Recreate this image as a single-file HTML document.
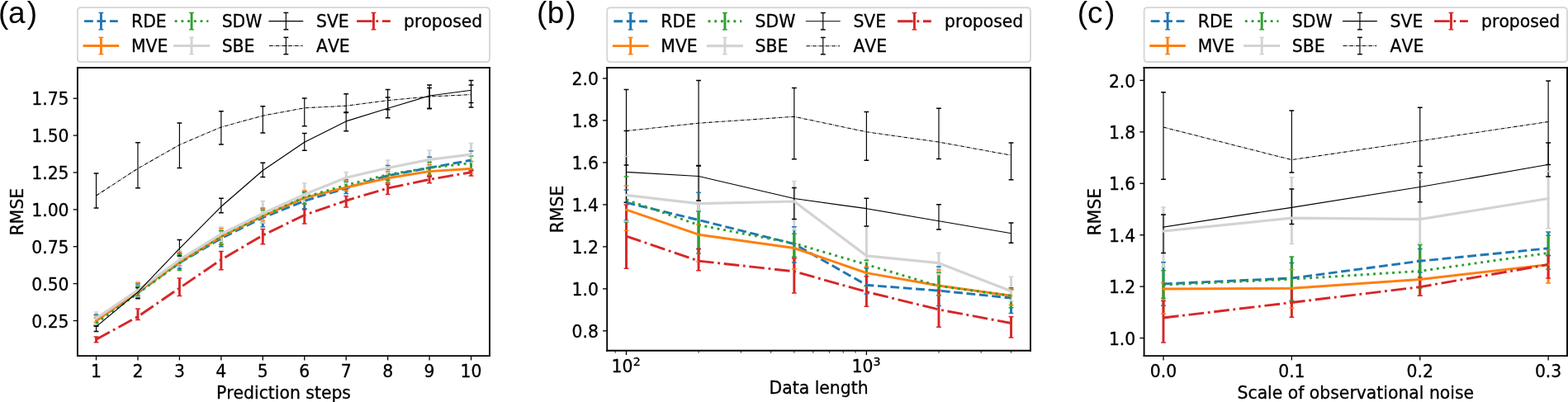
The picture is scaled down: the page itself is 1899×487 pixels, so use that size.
<!DOCTYPE html>
<html><head><meta charset="utf-8"><title>figure</title>
<style>html,body{margin:0;padding:0;background:#fff;}body{width:1899px;height:487px;overflow:hidden;}svg{display:block;}svg text{font-kerning:none;font-feature-settings:"kern" 0;stroke:#000;stroke-width:0.206;stroke-linejoin:round;}</style>
</head><body>
<svg width="1899" height="487" viewBox="0 0 1305.6033 334.822963" version="1.1">
 
 <defs>
  <style type="text/css">*{stroke-linejoin: round; stroke-linecap: butt}</style>
 </defs>
 <g id="figure_1">
  <g id="patch_1">
   <path d="M 0 334.822963 
L 1305.6033 334.822963 
L 1305.6033 0 
L 0 0 
z
" style="fill: #ffffff"/>
  </g>
  <g id="axes_1">
   <g id="patch_2">
    <path d="M 64.558267 296.424888 
L 407.700241 296.424888 
L 407.700241 56.376762 
L 64.558267 56.376762 
z
" style="fill: #ffffff"/>
   </g>
   <g id="matplotlib.axis_1">
    <g id="xtick_1">
     <g id="line2d_1">
      <g>
       <path d="M 0 0 L 0 3.6" transform="translate(80.096253 296.424888)" style="stroke: #000000; stroke-width: 0.9; stroke: #000000; stroke-width: 0.9"/>
      </g>
     </g>
     <g id="text_1">
      <text style="font-size: 14px; font-family: 'DejaVu Sans', 'Liberation Sans', sans-serif; text-anchor: middle" x="80.096253" y="314.506462" transform="rotate(-0 80.096253 314.506462)">1</text>
     </g>
    </g>
    <g id="xtick_2">
     <g id="line2d_2">
      <g>
       <path d="M 0 0 L 0 3.6" transform="translate(114.781712 296.424888)" style="stroke: #000000; stroke-width: 0.9; stroke: #000000; stroke-width: 0.9"/>
      </g>
     </g>
     <g id="text_2">
      <text style="font-size: 14px; font-family: 'DejaVu Sans', 'Liberation Sans', sans-serif; text-anchor: middle" x="114.781712" y="314.506462" transform="rotate(-0 114.781712 314.506462)">2</text>
     </g>
    </g>
    <g id="xtick_3">
     <g id="line2d_3">
      <g>
       <path d="M 0 0 L 0 3.6" transform="translate(149.467171 296.424888)" style="stroke: #000000; stroke-width: 0.9; stroke: #000000; stroke-width: 0.9"/>
      </g>
     </g>
     <g id="text_3">
      <text style="font-size: 14px; font-family: 'DejaVu Sans', 'Liberation Sans', sans-serif; text-anchor: middle" x="149.467171" y="314.506462" transform="rotate(-0 149.467171 314.506462)">3</text>
     </g>
    </g>
    <g id="xtick_4">
     <g id="line2d_4">
      <g>
       <path d="M 0 0 L 0 3.6" transform="translate(184.15263 296.424888)" style="stroke: #000000; stroke-width: 0.9; stroke: #000000; stroke-width: 0.9"/>
      </g>
     </g>
     <g id="text_4">
      <text style="font-size: 14px; font-family: 'DejaVu Sans', 'Liberation Sans', sans-serif; text-anchor: middle" x="184.15263" y="314.506462" transform="rotate(-0 184.15263 314.506462)">4</text>
     </g>
    </g>
    <g id="xtick_5">
     <g id="line2d_5">
      <g>
       <path d="M 0 0 L 0 3.6" transform="translate(218.838089 296.424888)" style="stroke: #000000; stroke-width: 0.9; stroke: #000000; stroke-width: 0.9"/>
      </g>
     </g>
     <g id="text_5">
      <text style="font-size: 14px; font-family: 'DejaVu Sans', 'Liberation Sans', sans-serif; text-anchor: middle" x="218.838089" y="314.506462" transform="rotate(-0 218.838089 314.506462)">5</text>
     </g>
    </g>
    <g id="xtick_6">
     <g id="line2d_6">
      <g>
       <path d="M 0 0 L 0 3.6" transform="translate(253.523548 296.424888)" style="stroke: #000000; stroke-width: 0.9; stroke: #000000; stroke-width: 0.9"/>
      </g>
     </g>
     <g id="text_6">
      <text style="font-size: 14px; font-family: 'DejaVu Sans', 'Liberation Sans', sans-serif; text-anchor: middle" x="253.523548" y="314.506462" transform="rotate(-0 253.523548 314.506462)">6</text>
     </g>
    </g>
    <g id="xtick_7">
     <g id="line2d_7">
      <g>
       <path d="M 0 0 L 0 3.6" transform="translate(288.209007 296.424888)" style="stroke: #000000; stroke-width: 0.9; stroke: #000000; stroke-width: 0.9"/>
      </g>
     </g>
     <g id="text_7">
      <text style="font-size: 14px; font-family: 'DejaVu Sans', 'Liberation Sans', sans-serif; text-anchor: middle" x="288.209007" y="314.506462" transform="rotate(-0 288.209007 314.506462)">7</text>
     </g>
    </g>
    <g id="xtick_8">
     <g id="line2d_8">
      <g>
       <path d="M 0 0 L 0 3.6" transform="translate(322.894465 296.424888)" style="stroke: #000000; stroke-width: 0.9; stroke: #000000; stroke-width: 0.9"/>
      </g>
     </g>
     <g id="text_8">
      <text style="font-size: 14px; font-family: 'DejaVu Sans', 'Liberation Sans', sans-serif; text-anchor: middle" x="322.894465" y="314.506462" transform="rotate(-0 322.894465 314.506462)">8</text>
     </g>
    </g>
    <g id="xtick_9">
     <g id="line2d_9">
      <g>
       <path d="M 0 0 L 0 3.6" transform="translate(357.579924 296.424888)" style="stroke: #000000; stroke-width: 0.9; stroke: #000000; stroke-width: 0.9"/>
      </g>
     </g>
     <g id="text_9">
      <text style="font-size: 14px; font-family: 'DejaVu Sans', 'Liberation Sans', sans-serif; text-anchor: middle" x="357.579924" y="314.506462" transform="rotate(-0 357.579924 314.506462)">9</text>
     </g>
    </g>
    <g id="xtick_10">
     <g id="line2d_10">
      <g>
       <path d="M 0 0 L 0 3.6" transform="translate(392.265383 296.424888)" style="stroke: #000000; stroke-width: 0.9; stroke: #000000; stroke-width: 0.9"/>
      </g>
     </g>
     <g id="text_10">
      <text style="font-size: 14px; font-family: 'DejaVu Sans', 'Liberation Sans', sans-serif; text-anchor: middle" x="392.265383" y="314.506462" transform="rotate(-0 392.265383 314.506462)">10</text>
     </g>
    </g>
    <g id="text_11">
     <text style="font-size: 14px; font-family: 'DejaVu Sans', 'Liberation Sans', sans-serif; text-anchor: middle" x="236.129254" y="332.193341" transform="rotate(-0 236.129254 332.193341)">Prediction steps</text>
    </g>
   </g>
   <g id="matplotlib.axis_2">
    <g id="ytick_1">
     <g id="line2d_11">
      <g>
       <path d="M 0 0 L -3.6 0" transform="translate(64.558267 267.102097)" style="stroke: #000000; stroke-width: 0.9; stroke: #000000; stroke-width: 0.9"/>
      </g>
     </g>
     <g id="text_12">
      <text style="font-size: 14px; font-family: 'DejaVu Sans', 'Liberation Sans', sans-serif; text-anchor: end" x="57.458267" y="272.764764" transform="rotate(-0 57.458267 272.764764)">0.25</text>
     </g>
    </g>
    <g id="ytick_2">
     <g id="line2d_12">
      <g>
       <path d="M 0 0 L -3.6 0" transform="translate(64.558267 236.244414)" style="stroke: #000000; stroke-width: 0.9; stroke: #000000; stroke-width: 0.9"/>
      </g>
     </g>
     <g id="text_13">
      <text style="font-size: 14px; font-family: 'DejaVu Sans', 'Liberation Sans', sans-serif; text-anchor: end" x="57.458267" y="241.907081" transform="rotate(-0 57.458267 241.907081)">0.50</text>
     </g>
    </g>
    <g id="ytick_3">
     <g id="line2d_13">
      <g>
       <path d="M 0 0 L -3.6 0" transform="translate(64.558267 205.386731)" style="stroke: #000000; stroke-width: 0.9; stroke: #000000; stroke-width: 0.9"/>
      </g>
     </g>
     <g id="text_14">
      <text style="font-size: 14px; font-family: 'DejaVu Sans', 'Liberation Sans', sans-serif; text-anchor: end" x="57.458267" y="211.049398" transform="rotate(-0 57.458267 211.049398)">0.75</text>
     </g>
    </g>
    <g id="ytick_4">
     <g id="line2d_14">
      <g>
       <path d="M 0 0 L -3.6 0" transform="translate(64.558267 174.529048)" style="stroke: #000000; stroke-width: 0.9; stroke: #000000; stroke-width: 0.9"/>
      </g>
     </g>
     <g id="text_15">
      <text style="font-size: 14px; font-family: 'DejaVu Sans', 'Liberation Sans', sans-serif; text-anchor: end" x="57.458267" y="180.191715" transform="rotate(-0 57.458267 180.191715)">1.00</text>
     </g>
    </g>
    <g id="ytick_5">
     <g id="line2d_15">
      <g>
       <path d="M 0 0 L -3.6 0" transform="translate(64.558267 143.671365)" style="stroke: #000000; stroke-width: 0.9; stroke: #000000; stroke-width: 0.9"/>
      </g>
     </g>
     <g id="text_16">
      <text style="font-size: 14px; font-family: 'DejaVu Sans', 'Liberation Sans', sans-serif; text-anchor: end" x="57.458267" y="149.334032" transform="rotate(-0 57.458267 149.334032)">1.25</text>
     </g>
    </g>
    <g id="ytick_6">
     <g id="line2d_16">
      <g>
       <path d="M 0 0 L -3.6 0" transform="translate(64.558267 112.813682)" style="stroke: #000000; stroke-width: 0.9; stroke: #000000; stroke-width: 0.9"/>
      </g>
     </g>
     <g id="text_17">
      <text style="font-size: 14px; font-family: 'DejaVu Sans', 'Liberation Sans', sans-serif; text-anchor: end" x="57.458267" y="118.476349" transform="rotate(-0 57.458267 118.476349)">1.50</text>
     </g>
    </g>
    <g id="ytick_7">
     <g id="line2d_17">
      <g>
       <path d="M 0 0 L -3.6 0" transform="translate(64.558267 81.955999)" style="stroke: #000000; stroke-width: 0.9; stroke: #000000; stroke-width: 0.9"/>
      </g>
     </g>
     <g id="text_18">
      <text style="font-size: 14px; font-family: 'DejaVu Sans', 'Liberation Sans', sans-serif; text-anchor: end" x="57.458267" y="87.618666" transform="rotate(-0 57.458267 87.618666)">1.75</text>
     </g>
    </g>
    <g id="text_19">
     <text style="font-size: 14px; font-family: 'DejaVu Sans', 'Liberation Sans', sans-serif; text-anchor: middle" x="19.37483" y="176.400825" transform="rotate(-90 19.37483 176.400825)">RMSE</text>
    </g>
   </g>
   <g id="LineCollection_1">
    <path d="M 80.096253 270.883465 
L 80.096253 262.014438 
" clip-path="url(#p12a001afb0)" style="fill: none; stroke: #1f77b4; stroke-width: 2"/>
    <path d="M 114.781712 248.882778 
L 114.781712 236.507391 
" clip-path="url(#p12a001afb0)" style="fill: none; stroke: #1f77b4; stroke-width: 2"/>
    <path d="M 149.467171 223.719491 
L 149.467171 211.275352 
" clip-path="url(#p12a001afb0)" style="fill: none; stroke: #1f77b4; stroke-width: 2"/>
    <path d="M 184.15263 205.362668 
L 184.15263 192.162255 
" clip-path="url(#p12a001afb0)" style="fill: none; stroke: #1f77b4; stroke-width: 2"/>
    <path d="M 218.838089 188.862152 
L 218.838089 173.667927 
" clip-path="url(#p12a001afb0)" style="fill: none; stroke: #1f77b4; stroke-width: 2"/>
    <path d="M 253.523548 173.736679 
L 253.523548 159.504985 
" clip-path="url(#p12a001afb0)" style="fill: none; stroke: #1f77b4; stroke-width: 2"/>
    <path d="M 288.209007 161.155036 
L 288.209007 151.254727 
" clip-path="url(#p12a001afb0)" style="fill: none; stroke: #1f77b4; stroke-width: 2"/>
    <path d="M 322.894465 152.62977 
L 322.894465 137.91681 
" clip-path="url(#p12a001afb0)" style="fill: none; stroke: #1f77b4; stroke-width: 2"/>
    <path d="M 357.579924 147.129598 
L 357.579924 130.835339 
" clip-path="url(#p12a001afb0)" style="fill: none; stroke: #1f77b4; stroke-width: 2"/>
    <path d="M 392.265383 140.941904 
L 392.265383 125.74768 
" clip-path="url(#p12a001afb0)" style="fill: none; stroke: #1f77b4; stroke-width: 2"/>
   </g>
   <g id="LineCollection_2">
    <path d="M 80.096253 268.545892 
L 80.096253 262.976968 
" clip-path="url(#p12a001afb0)" style="fill: none; stroke: #ff7f0e; stroke-width: 2"/>
    <path d="M 114.781712 246.201444 
L 114.781712 235.613613 
" clip-path="url(#p12a001afb0)" style="fill: none; stroke: #ff7f0e; stroke-width: 2"/>
    <path d="M 149.467171 221.175662 
L 149.467171 210.037814 
" clip-path="url(#p12a001afb0)" style="fill: none; stroke: #ff7f0e; stroke-width: 2"/>
    <path d="M 184.15263 203.231351 
L 184.15263 190.099691 
" clip-path="url(#p12a001afb0)" style="fill: none; stroke: #ff7f0e; stroke-width: 2"/>
    <path d="M 218.838089 183.911997 
L 218.838089 173.255414 
" clip-path="url(#p12a001afb0)" style="fill: none; stroke: #ff7f0e; stroke-width: 2"/>
    <path d="M 253.523548 169.817807 
L 253.523548 158.817463 
" clip-path="url(#p12a001afb0)" style="fill: none; stroke: #ff7f0e; stroke-width: 2"/>
    <path d="M 288.209007 159.023719 
L 288.209007 150.842214 
" clip-path="url(#p12a001afb0)" style="fill: none; stroke: #ff7f0e; stroke-width: 2"/>
    <path d="M 322.894465 151.735992 
L 322.894465 142.866965 
" clip-path="url(#p12a001afb0)" style="fill: none; stroke: #ff7f0e; stroke-width: 2"/>
    <path d="M 357.579924 145.754555 
L 357.579924 137.229288 
" clip-path="url(#p12a001afb0)" style="fill: none; stroke: #ff7f0e; stroke-width: 2"/>
    <path d="M 392.265383 144.379512 
L 392.265383 134.479202 
" clip-path="url(#p12a001afb0)" style="fill: none; stroke: #ff7f0e; stroke-width: 2"/>
   </g>
   <g id="LineCollection_3">
    <path d="M 80.096253 270.677209 
L 80.096253 264.833276 
" clip-path="url(#p12a001afb0)" style="fill: none; stroke: #2ca02c; stroke-width: 2"/>
    <path d="M 114.781712 246.820213 
L 114.781712 238.157442 
" clip-path="url(#p12a001afb0)" style="fill: none; stroke: #2ca02c; stroke-width: 2"/>
    <path d="M 149.467171 225.094534 
L 149.467171 211.756617 
" clip-path="url(#p12a001afb0)" style="fill: none; stroke: #2ca02c; stroke-width: 2"/>
    <path d="M 184.15263 203.918872 
L 184.15263 192.093503 
" clip-path="url(#p12a001afb0)" style="fill: none; stroke: #2ca02c; stroke-width: 2"/>
    <path d="M 218.838089 185.699553 
L 218.838089 175.04297 
" clip-path="url(#p12a001afb0)" style="fill: none; stroke: #2ca02c; stroke-width: 2"/>
    <path d="M 253.523548 169.886559 
L 253.523548 160.467515 
" clip-path="url(#p12a001afb0)" style="fill: none; stroke: #2ca02c; stroke-width: 2"/>
    <path d="M 288.209007 157.373668 
L 288.209007 149.742179 
" clip-path="url(#p12a001afb0)" style="fill: none; stroke: #2ca02c; stroke-width: 2"/>
    <path d="M 322.894465 150.08594 
L 322.894465 141.148161 
" clip-path="url(#p12a001afb0)" style="fill: none; stroke: #2ca02c; stroke-width: 2"/>
    <path d="M 357.579924 146.098316 
L 357.579924 135.097972 
" clip-path="url(#p12a001afb0)" style="fill: none; stroke: #2ca02c; stroke-width: 2"/>
    <path d="M 392.265383 142.248195 
L 392.265383 129.941561 
" clip-path="url(#p12a001afb0)" style="fill: none; stroke: #2ca02c; stroke-width: 2"/>
   </g>
   <g id="LineCollection_4">
    <path d="M 80.096253 270.195944 
L 80.096253 259.951873 
" clip-path="url(#p12a001afb0)" style="fill: none; stroke: #d3d3d3; stroke-width: 2"/>
    <path d="M 114.781712 247.507735 
L 114.781712 234.376074 
" clip-path="url(#p12a001afb0)" style="fill: none; stroke: #d3d3d3; stroke-width: 2"/>
    <path d="M 149.467171 222.000688 
L 149.467171 208.731523 
" clip-path="url(#p12a001afb0)" style="fill: none; stroke: #d3d3d3; stroke-width: 2"/>
    <path d="M 184.15263 201.100034 
L 184.15263 188.999656 
" clip-path="url(#p12a001afb0)" style="fill: none; stroke: #d3d3d3; stroke-width: 2"/>
    <path d="M 218.838089 185.630801 
L 218.838089 167.411482 
" clip-path="url(#p12a001afb0)" style="fill: none; stroke: #d3d3d3; stroke-width: 2"/>
    <path d="M 253.523548 167.961499 
L 253.523548 152.423513 
" clip-path="url(#p12a001afb0)" style="fill: none; stroke: #d3d3d3; stroke-width: 2"/>
    <path d="M 288.209007 154.004813 
L 288.209007 143.416982 
" clip-path="url(#p12a001afb0)" style="fill: none; stroke: #d3d3d3; stroke-width: 2"/>
    <path d="M 322.894465 145.067033 
L 322.894465 133.310416 
" clip-path="url(#p12a001afb0)" style="fill: none; stroke: #d3d3d3; stroke-width: 2"/>
    <path d="M 357.579924 139.566861 
L 357.579924 125.12891 
" clip-path="url(#p12a001afb0)" style="fill: none; stroke: #d3d3d3; stroke-width: 2"/>
    <path d="M 392.265383 135.441733 
L 392.265383 119.216226 
" clip-path="url(#p12a001afb0)" style="fill: none; stroke: #d3d3d3; stroke-width: 2"/>
   </g>
   <g id="LineCollection_5">
    <path d="M 80.096253 276.039876 
L 80.096253 271.708491 
" clip-path="url(#p12a001afb0)" style="fill: none; stroke: #000000; stroke-width: 0.8"/>
    <path d="M 114.781712 248.33276 
L 114.781712 239.601238 
" clip-path="url(#p12a001afb0)" style="fill: none; stroke: #000000; stroke-width: 0.8"/>
    <path d="M 149.467171 213.13166 
L 149.467171 199.656239 
" clip-path="url(#p12a001afb0)" style="fill: none; stroke: #000000; stroke-width: 0.8"/>
    <path d="M 184.15263 177.243039 
L 184.15263 165.211413 
" clip-path="url(#p12a001afb0)" style="fill: none; stroke: #000000; stroke-width: 0.8"/>
    <path d="M 218.838089 147.404606 
L 218.838089 135.579237 
" clip-path="url(#p12a001afb0)" style="fill: none; stroke: #000000; stroke-width: 0.8"/>
    <path d="M 253.523548 125.335167 
L 253.523548 110.965968 
" clip-path="url(#p12a001afb0)" style="fill: none; stroke: #000000; stroke-width: 0.8"/>
    <path d="M 288.209007 109.178412 
L 288.209007 93.571674 
" clip-path="url(#p12a001afb0)" style="fill: none; stroke: #000000; stroke-width: 0.8"/>
    <path d="M 322.894465 98.178068 
L 322.894465 81.127535 
" clip-path="url(#p12a001afb0)" style="fill: none; stroke: #000000; stroke-width: 0.8"/>
    <path d="M 357.579924 90.477827 
L 357.579924 73.28979 
" clip-path="url(#p12a001afb0)" style="fill: none; stroke: #000000; stroke-width: 0.8"/>
    <path d="M 392.265383 85.596425 
L 392.265383 66.964593 
" clip-path="url(#p12a001afb0)" style="fill: none; stroke: #000000; stroke-width: 0.8"/>
   </g>
   <g id="LineCollection_6">
    <path d="M 80.096253 173.255414 
L 80.096253 144.31076 
" clip-path="url(#p12a001afb0)" style="fill: none; stroke: #000000; stroke-width: 0.8"/>
    <path d="M 114.781712 156.617394 
L 114.781712 118.73496 
" clip-path="url(#p12a001afb0)" style="fill: none; stroke: #000000; stroke-width: 0.8"/>
    <path d="M 149.467171 139.910622 
L 149.467171 102.440701 
" clip-path="url(#p12a001afb0)" style="fill: none; stroke: #000000; stroke-width: 0.8"/>
    <path d="M 184.15263 120.247508 
L 184.15263 92.609144 
" clip-path="url(#p12a001afb0)" style="fill: none; stroke: #000000; stroke-width: 0.8"/>
    <path d="M 218.838089 110.622207 
L 218.838089 88.552767 
" clip-path="url(#p12a001afb0)" style="fill: none; stroke: #000000; stroke-width: 0.8"/>
    <path d="M 253.523548 104.984531 
L 253.523548 81.815057 
" clip-path="url(#p12a001afb0)" style="fill: none; stroke: #000000; stroke-width: 0.8"/>
    <path d="M 288.209007 93.915435 
L 288.209007 78.171193 
" clip-path="url(#p12a001afb0)" style="fill: none; stroke: #000000; stroke-width: 0.8"/>
    <path d="M 322.894465 91.234101 
L 322.894465 74.596081 
" clip-path="url(#p12a001afb0)" style="fill: none; stroke: #000000; stroke-width: 0.8"/>
    <path d="M 357.579924 90.477827 
L 357.579924 70.883465 
" clip-path="url(#p12a001afb0)" style="fill: none; stroke: #000000; stroke-width: 0.8"/>
    <path d="M 392.265383 89.309041 
L 392.265383 70.745961 
" clip-path="url(#p12a001afb0)" style="fill: none; stroke: #000000; stroke-width: 0.8"/>
   </g>
   <g id="LineCollection_7">
    <path d="M 80.096253 285.11516 
L 80.096253 280.440014 
" clip-path="url(#p12a001afb0)" style="fill: none; stroke: #d62728; stroke-width: 2"/>
    <path d="M 114.781712 266.345823 
L 114.781712 257.064283 
" clip-path="url(#p12a001afb0)" style="fill: none; stroke: #d62728; stroke-width: 2"/>
    <path d="M 149.467171 246.545205 
L 149.467171 231.625988 
" clip-path="url(#p12a001afb0)" style="fill: none; stroke: #d62728; stroke-width: 2"/>
    <path d="M 184.15263 224.682021 
L 184.15263 209.350292 
" clip-path="url(#p12a001afb0)" style="fill: none; stroke: #d62728; stroke-width: 2"/>
    <path d="M 218.838089 203.300103 
L 218.838089 190.71846 
" clip-path="url(#p12a001afb0)" style="fill: none; stroke: #d62728; stroke-width: 2"/>
    <path d="M 253.523548 186.24957 
L 253.523548 174.492953 
" clip-path="url(#p12a001afb0)" style="fill: none; stroke: #d62728; stroke-width: 2"/>
    <path d="M 288.209007 172.636645 
L 288.209007 163.286353 
" clip-path="url(#p12a001afb0)" style="fill: none; stroke: #d62728; stroke-width: 2"/>
    <path d="M 322.894465 161.91131 
L 322.894465 153.5923 
" clip-path="url(#p12a001afb0)" style="fill: none; stroke: #d62728; stroke-width: 2"/>
    <path d="M 357.579924 152.423513 
L 357.579924 146.923341 
" clip-path="url(#p12a001afb0)" style="fill: none; stroke: #d62728; stroke-width: 2"/>
    <path d="M 392.265383 146.442076 
L 392.265383 141.973187 
" clip-path="url(#p12a001afb0)" style="fill: none; stroke: #d62728; stroke-width: 2"/>
   </g>
   <g id="line2d_18">
    <g clip-path="url(#p12a001afb0)">
     <path d="M 2 0 L -2 -0" transform="translate(80.096253 270.883465)" style="fill: #1f77b4; stroke: #1f77b4; stroke: #1f77b4"/>
     <path d="M 2 0 L -2 -0" transform="translate(114.781712 248.882778)" style="fill: #1f77b4; stroke: #1f77b4; stroke: #1f77b4"/>
     <path d="M 2 0 L -2 -0" transform="translate(149.467171 223.719491)" style="fill: #1f77b4; stroke: #1f77b4; stroke: #1f77b4"/>
     <path d="M 2 0 L -2 -0" transform="translate(184.15263 205.362668)" style="fill: #1f77b4; stroke: #1f77b4; stroke: #1f77b4"/>
     <path d="M 2 0 L -2 -0" transform="translate(218.838089 188.862152)" style="fill: #1f77b4; stroke: #1f77b4; stroke: #1f77b4"/>
     <path d="M 2 0 L -2 -0" transform="translate(253.523548 173.736679)" style="fill: #1f77b4; stroke: #1f77b4; stroke: #1f77b4"/>
     <path d="M 2 0 L -2 -0" transform="translate(288.209007 161.155036)" style="fill: #1f77b4; stroke: #1f77b4; stroke: #1f77b4"/>
     <path d="M 2 0 L -2 -0" transform="translate(322.894465 152.62977)" style="fill: #1f77b4; stroke: #1f77b4; stroke: #1f77b4"/>
     <path d="M 2 0 L -2 -0" transform="translate(357.579924 147.129598)" style="fill: #1f77b4; stroke: #1f77b4; stroke: #1f77b4"/>
     <path d="M 2 0 L -2 -0" transform="translate(392.265383 140.941904)" style="fill: #1f77b4; stroke: #1f77b4; stroke: #1f77b4"/>
    </g>
   </g>
   <g id="line2d_19">
    <g clip-path="url(#p12a001afb0)">
     <path d="M 2 0 L -2 -0" transform="translate(80.096253 262.014438)" style="fill: #1f77b4; stroke: #1f77b4; stroke: #1f77b4"/>
     <path d="M 2 0 L -2 -0" transform="translate(114.781712 236.507391)" style="fill: #1f77b4; stroke: #1f77b4; stroke: #1f77b4"/>
     <path d="M 2 0 L -2 -0" transform="translate(149.467171 211.275352)" style="fill: #1f77b4; stroke: #1f77b4; stroke: #1f77b4"/>
     <path d="M 2 0 L -2 -0" transform="translate(184.15263 192.162255)" style="fill: #1f77b4; stroke: #1f77b4; stroke: #1f77b4"/>
     <path d="M 2 0 L -2 -0" transform="translate(218.838089 173.667927)" style="fill: #1f77b4; stroke: #1f77b4; stroke: #1f77b4"/>
     <path d="M 2 0 L -2 -0" transform="translate(253.523548 159.504985)" style="fill: #1f77b4; stroke: #1f77b4; stroke: #1f77b4"/>
     <path d="M 2 0 L -2 -0" transform="translate(288.209007 151.254727)" style="fill: #1f77b4; stroke: #1f77b4; stroke: #1f77b4"/>
     <path d="M 2 0 L -2 -0" transform="translate(322.894465 137.91681)" style="fill: #1f77b4; stroke: #1f77b4; stroke: #1f77b4"/>
     <path d="M 2 0 L -2 -0" transform="translate(357.579924 130.835339)" style="fill: #1f77b4; stroke: #1f77b4; stroke: #1f77b4"/>
     <path d="M 2 0 L -2 -0" transform="translate(392.265383 125.74768)" style="fill: #1f77b4; stroke: #1f77b4; stroke: #1f77b4"/>
    </g>
   </g>
   <g id="line2d_20">
    <g clip-path="url(#p12a001afb0)">
     <path d="M 2 0 L -2 -0" transform="translate(80.096253 268.545892)" style="fill: #ff7f0e; stroke: #ff7f0e; stroke: #ff7f0e"/>
     <path d="M 2 0 L -2 -0" transform="translate(114.781712 246.201444)" style="fill: #ff7f0e; stroke: #ff7f0e; stroke: #ff7f0e"/>
     <path d="M 2 0 L -2 -0" transform="translate(149.467171 221.175662)" style="fill: #ff7f0e; stroke: #ff7f0e; stroke: #ff7f0e"/>
     <path d="M 2 0 L -2 -0" transform="translate(184.15263 203.231351)" style="fill: #ff7f0e; stroke: #ff7f0e; stroke: #ff7f0e"/>
     <path d="M 2 0 L -2 -0" transform="translate(218.838089 183.911997)" style="fill: #ff7f0e; stroke: #ff7f0e; stroke: #ff7f0e"/>
     <path d="M 2 0 L -2 -0" transform="translate(253.523548 169.817807)" style="fill: #ff7f0e; stroke: #ff7f0e; stroke: #ff7f0e"/>
     <path d="M 2 0 L -2 -0" transform="translate(288.209007 159.023719)" style="fill: #ff7f0e; stroke: #ff7f0e; stroke: #ff7f0e"/>
     <path d="M 2 0 L -2 -0" transform="translate(322.894465 151.735992)" style="fill: #ff7f0e; stroke: #ff7f0e; stroke: #ff7f0e"/>
     <path d="M 2 0 L -2 -0" transform="translate(357.579924 145.754555)" style="fill: #ff7f0e; stroke: #ff7f0e; stroke: #ff7f0e"/>
     <path d="M 2 0 L -2 -0" transform="translate(392.265383 144.379512)" style="fill: #ff7f0e; stroke: #ff7f0e; stroke: #ff7f0e"/>
    </g>
   </g>
   <g id="line2d_21">
    <g clip-path="url(#p12a001afb0)">
     <path d="M 2 0 L -2 -0" transform="translate(80.096253 262.976968)" style="fill: #ff7f0e; stroke: #ff7f0e; stroke: #ff7f0e"/>
     <path d="M 2 0 L -2 -0" transform="translate(114.781712 235.613613)" style="fill: #ff7f0e; stroke: #ff7f0e; stroke: #ff7f0e"/>
     <path d="M 2 0 L -2 -0" transform="translate(149.467171 210.037814)" style="fill: #ff7f0e; stroke: #ff7f0e; stroke: #ff7f0e"/>
     <path d="M 2 0 L -2 -0" transform="translate(184.15263 190.099691)" style="fill: #ff7f0e; stroke: #ff7f0e; stroke: #ff7f0e"/>
     <path d="M 2 0 L -2 -0" transform="translate(218.838089 173.255414)" style="fill: #ff7f0e; stroke: #ff7f0e; stroke: #ff7f0e"/>
     <path d="M 2 0 L -2 -0" transform="translate(253.523548 158.817463)" style="fill: #ff7f0e; stroke: #ff7f0e; stroke: #ff7f0e"/>
     <path d="M 2 0 L -2 -0" transform="translate(288.209007 150.842214)" style="fill: #ff7f0e; stroke: #ff7f0e; stroke: #ff7f0e"/>
     <path d="M 2 0 L -2 -0" transform="translate(322.894465 142.866965)" style="fill: #ff7f0e; stroke: #ff7f0e; stroke: #ff7f0e"/>
     <path d="M 2 0 L -2 -0" transform="translate(357.579924 137.229288)" style="fill: #ff7f0e; stroke: #ff7f0e; stroke: #ff7f0e"/>
     <path d="M 2 0 L -2 -0" transform="translate(392.265383 134.479202)" style="fill: #ff7f0e; stroke: #ff7f0e; stroke: #ff7f0e"/>
    </g>
   </g>
   <g id="line2d_22">
    <g clip-path="url(#p12a001afb0)">
     <path d="M 2 0 L -2 -0" transform="translate(80.096253 270.677209)" style="fill: #2ca02c; stroke: #2ca02c; stroke: #2ca02c"/>
     <path d="M 2 0 L -2 -0" transform="translate(114.781712 246.820213)" style="fill: #2ca02c; stroke: #2ca02c; stroke: #2ca02c"/>
     <path d="M 2 0 L -2 -0" transform="translate(149.467171 225.094534)" style="fill: #2ca02c; stroke: #2ca02c; stroke: #2ca02c"/>
     <path d="M 2 0 L -2 -0" transform="translate(184.15263 203.918872)" style="fill: #2ca02c; stroke: #2ca02c; stroke: #2ca02c"/>
     <path d="M 2 0 L -2 -0" transform="translate(218.838089 185.699553)" style="fill: #2ca02c; stroke: #2ca02c; stroke: #2ca02c"/>
     <path d="M 2 0 L -2 -0" transform="translate(253.523548 169.886559)" style="fill: #2ca02c; stroke: #2ca02c; stroke: #2ca02c"/>
     <path d="M 2 0 L -2 -0" transform="translate(288.209007 157.373668)" style="fill: #2ca02c; stroke: #2ca02c; stroke: #2ca02c"/>
     <path d="M 2 0 L -2 -0" transform="translate(322.894465 150.08594)" style="fill: #2ca02c; stroke: #2ca02c; stroke: #2ca02c"/>
     <path d="M 2 0 L -2 -0" transform="translate(357.579924 146.098316)" style="fill: #2ca02c; stroke: #2ca02c; stroke: #2ca02c"/>
     <path d="M 2 0 L -2 -0" transform="translate(392.265383 142.248195)" style="fill: #2ca02c; stroke: #2ca02c; stroke: #2ca02c"/>
    </g>
   </g>
   <g id="line2d_23">
    <g clip-path="url(#p12a001afb0)">
     <path d="M 2 0 L -2 -0" transform="translate(80.096253 264.833276)" style="fill: #2ca02c; stroke: #2ca02c; stroke: #2ca02c"/>
     <path d="M 2 0 L -2 -0" transform="translate(114.781712 238.157442)" style="fill: #2ca02c; stroke: #2ca02c; stroke: #2ca02c"/>
     <path d="M 2 0 L -2 -0" transform="translate(149.467171 211.756617)" style="fill: #2ca02c; stroke: #2ca02c; stroke: #2ca02c"/>
     <path d="M 2 0 L -2 -0" transform="translate(184.15263 192.093503)" style="fill: #2ca02c; stroke: #2ca02c; stroke: #2ca02c"/>
     <path d="M 2 0 L -2 -0" transform="translate(218.838089 175.04297)" style="fill: #2ca02c; stroke: #2ca02c; stroke: #2ca02c"/>
     <path d="M 2 0 L -2 -0" transform="translate(253.523548 160.467515)" style="fill: #2ca02c; stroke: #2ca02c; stroke: #2ca02c"/>
     <path d="M 2 0 L -2 -0" transform="translate(288.209007 149.742179)" style="fill: #2ca02c; stroke: #2ca02c; stroke: #2ca02c"/>
     <path d="M 2 0 L -2 -0" transform="translate(322.894465 141.148161)" style="fill: #2ca02c; stroke: #2ca02c; stroke: #2ca02c"/>
     <path d="M 2 0 L -2 -0" transform="translate(357.579924 135.097972)" style="fill: #2ca02c; stroke: #2ca02c; stroke: #2ca02c"/>
     <path d="M 2 0 L -2 -0" transform="translate(392.265383 129.941561)" style="fill: #2ca02c; stroke: #2ca02c; stroke: #2ca02c"/>
    </g>
   </g>
   <g id="line2d_24">
    <g clip-path="url(#p12a001afb0)">
     <path d="M 2 0 L -2 -0" transform="translate(80.096253 270.195944)" style="fill: #d3d3d3; stroke: #d3d3d3; stroke: #d3d3d3"/>
     <path d="M 2 0 L -2 -0" transform="translate(114.781712 247.507735)" style="fill: #d3d3d3; stroke: #d3d3d3; stroke: #d3d3d3"/>
     <path d="M 2 0 L -2 -0" transform="translate(149.467171 222.000688)" style="fill: #d3d3d3; stroke: #d3d3d3; stroke: #d3d3d3"/>
     <path d="M 2 0 L -2 -0" transform="translate(184.15263 201.100034)" style="fill: #d3d3d3; stroke: #d3d3d3; stroke: #d3d3d3"/>
     <path d="M 2 0 L -2 -0" transform="translate(218.838089 185.630801)" style="fill: #d3d3d3; stroke: #d3d3d3; stroke: #d3d3d3"/>
     <path d="M 2 0 L -2 -0" transform="translate(253.523548 167.961499)" style="fill: #d3d3d3; stroke: #d3d3d3; stroke: #d3d3d3"/>
     <path d="M 2 0 L -2 -0" transform="translate(288.209007 154.004813)" style="fill: #d3d3d3; stroke: #d3d3d3; stroke: #d3d3d3"/>
     <path d="M 2 0 L -2 -0" transform="translate(322.894465 145.067033)" style="fill: #d3d3d3; stroke: #d3d3d3; stroke: #d3d3d3"/>
     <path d="M 2 0 L -2 -0" transform="translate(357.579924 139.566861)" style="fill: #d3d3d3; stroke: #d3d3d3; stroke: #d3d3d3"/>
     <path d="M 2 0 L -2 -0" transform="translate(392.265383 135.441733)" style="fill: #d3d3d3; stroke: #d3d3d3; stroke: #d3d3d3"/>
    </g>
   </g>
   <g id="line2d_25">
    <g clip-path="url(#p12a001afb0)">
     <path d="M 2 0 L -2 -0" transform="translate(80.096253 259.951873)" style="fill: #d3d3d3; stroke: #d3d3d3; stroke: #d3d3d3"/>
     <path d="M 2 0 L -2 -0" transform="translate(114.781712 234.376074)" style="fill: #d3d3d3; stroke: #d3d3d3; stroke: #d3d3d3"/>
     <path d="M 2 0 L -2 -0" transform="translate(149.467171 208.731523)" style="fill: #d3d3d3; stroke: #d3d3d3; stroke: #d3d3d3"/>
     <path d="M 2 0 L -2 -0" transform="translate(184.15263 188.999656)" style="fill: #d3d3d3; stroke: #d3d3d3; stroke: #d3d3d3"/>
     <path d="M 2 0 L -2 -0" transform="translate(218.838089 167.411482)" style="fill: #d3d3d3; stroke: #d3d3d3; stroke: #d3d3d3"/>
     <path d="M 2 0 L -2 -0" transform="translate(253.523548 152.423513)" style="fill: #d3d3d3; stroke: #d3d3d3; stroke: #d3d3d3"/>
     <path d="M 2 0 L -2 -0" transform="translate(288.209007 143.416982)" style="fill: #d3d3d3; stroke: #d3d3d3; stroke: #d3d3d3"/>
     <path d="M 2 0 L -2 -0" transform="translate(322.894465 133.310416)" style="fill: #d3d3d3; stroke: #d3d3d3; stroke: #d3d3d3"/>
     <path d="M 2 0 L -2 -0" transform="translate(357.579924 125.12891)" style="fill: #d3d3d3; stroke: #d3d3d3; stroke: #d3d3d3"/>
     <path d="M 2 0 L -2 -0" transform="translate(392.265383 119.216226)" style="fill: #d3d3d3; stroke: #d3d3d3; stroke: #d3d3d3"/>
    </g>
   </g>
   <g id="line2d_26">
    <g clip-path="url(#p12a001afb0)">
     <path d="M 2 0 L -2 -0" transform="translate(80.096253 276.039876)" style="stroke: #000000; stroke: #000000"/>
     <path d="M 2 0 L -2 -0" transform="translate(114.781712 248.33276)" style="stroke: #000000; stroke: #000000"/>
     <path d="M 2 0 L -2 -0" transform="translate(149.467171 213.13166)" style="stroke: #000000; stroke: #000000"/>
     <path d="M 2 0 L -2 -0" transform="translate(184.15263 177.243039)" style="stroke: #000000; stroke: #000000"/>
     <path d="M 2 0 L -2 -0" transform="translate(218.838089 147.404606)" style="stroke: #000000; stroke: #000000"/>
     <path d="M 2 0 L -2 -0" transform="translate(253.523548 125.335167)" style="stroke: #000000; stroke: #000000"/>
     <path d="M 2 0 L -2 -0" transform="translate(288.209007 109.178412)" style="stroke: #000000; stroke: #000000"/>
     <path d="M 2 0 L -2 -0" transform="translate(322.894465 98.178068)" style="stroke: #000000; stroke: #000000"/>
     <path d="M 2 0 L -2 -0" transform="translate(357.579924 90.477827)" style="stroke: #000000; stroke: #000000"/>
     <path d="M 2 0 L -2 -0" transform="translate(392.265383 85.596425)" style="stroke: #000000; stroke: #000000"/>
    </g>
   </g>
   <g id="line2d_27">
    <g clip-path="url(#p12a001afb0)">
     <path d="M 2 0 L -2 -0" transform="translate(80.096253 271.708491)" style="stroke: #000000; stroke: #000000"/>
     <path d="M 2 0 L -2 -0" transform="translate(114.781712 239.601238)" style="stroke: #000000; stroke: #000000"/>
     <path d="M 2 0 L -2 -0" transform="translate(149.467171 199.656239)" style="stroke: #000000; stroke: #000000"/>
     <path d="M 2 0 L -2 -0" transform="translate(184.15263 165.211413)" style="stroke: #000000; stroke: #000000"/>
     <path d="M 2 0 L -2 -0" transform="translate(218.838089 135.579237)" style="stroke: #000000; stroke: #000000"/>
     <path d="M 2 0 L -2 -0" transform="translate(253.523548 110.965968)" style="stroke: #000000; stroke: #000000"/>
     <path d="M 2 0 L -2 -0" transform="translate(288.209007 93.571674)" style="stroke: #000000; stroke: #000000"/>
     <path d="M 2 0 L -2 -0" transform="translate(322.894465 81.127535)" style="stroke: #000000; stroke: #000000"/>
     <path d="M 2 0 L -2 -0" transform="translate(357.579924 73.28979)" style="stroke: #000000; stroke: #000000"/>
     <path d="M 2 0 L -2 -0" transform="translate(392.265383 66.964593)" style="stroke: #000000; stroke: #000000"/>
    </g>
   </g>
   <g id="line2d_28">
    <g clip-path="url(#p12a001afb0)">
     <path d="M 2 0 L -2 -0" transform="translate(80.096253 173.255414)" style="stroke: #000000; stroke: #000000"/>
     <path d="M 2 0 L -2 -0" transform="translate(114.781712 156.617394)" style="stroke: #000000; stroke: #000000"/>
     <path d="M 2 0 L -2 -0" transform="translate(149.467171 139.910622)" style="stroke: #000000; stroke: #000000"/>
     <path d="M 2 0 L -2 -0" transform="translate(184.15263 120.247508)" style="stroke: #000000; stroke: #000000"/>
     <path d="M 2 0 L -2 -0" transform="translate(218.838089 110.622207)" style="stroke: #000000; stroke: #000000"/>
     <path d="M 2 0 L -2 -0" transform="translate(253.523548 104.984531)" style="stroke: #000000; stroke: #000000"/>
     <path d="M 2 0 L -2 -0" transform="translate(288.209007 93.915435)" style="stroke: #000000; stroke: #000000"/>
     <path d="M 2 0 L -2 -0" transform="translate(322.894465 91.234101)" style="stroke: #000000; stroke: #000000"/>
     <path d="M 2 0 L -2 -0" transform="translate(357.579924 90.477827)" style="stroke: #000000; stroke: #000000"/>
     <path d="M 2 0 L -2 -0" transform="translate(392.265383 89.309041)" style="stroke: #000000; stroke: #000000"/>
    </g>
   </g>
   <g id="line2d_29">
    <g clip-path="url(#p12a001afb0)">
     <path d="M 2 0 L -2 -0" transform="translate(80.096253 144.31076)" style="stroke: #000000; stroke: #000000"/>
     <path d="M 2 0 L -2 -0" transform="translate(114.781712 118.73496)" style="stroke: #000000; stroke: #000000"/>
     <path d="M 2 0 L -2 -0" transform="translate(149.467171 102.440701)" style="stroke: #000000; stroke: #000000"/>
     <path d="M 2 0 L -2 -0" transform="translate(184.15263 92.609144)" style="stroke: #000000; stroke: #000000"/>
     <path d="M 2 0 L -2 -0" transform="translate(218.838089 88.552767)" style="stroke: #000000; stroke: #000000"/>
     <path d="M 2 0 L -2 -0" transform="translate(253.523548 81.815057)" style="stroke: #000000; stroke: #000000"/>
     <path d="M 2 0 L -2 -0" transform="translate(288.209007 78.171193)" style="stroke: #000000; stroke: #000000"/>
     <path d="M 2 0 L -2 -0" transform="translate(322.894465 74.596081)" style="stroke: #000000; stroke: #000000"/>
     <path d="M 2 0 L -2 -0" transform="translate(357.579924 70.883465)" style="stroke: #000000; stroke: #000000"/>
     <path d="M 2 0 L -2 -0" transform="translate(392.265383 70.745961)" style="stroke: #000000; stroke: #000000"/>
    </g>
   </g>
   <g id="line2d_30">
    <g clip-path="url(#p12a001afb0)">
     <path d="M 2 0 L -2 -0" transform="translate(80.096253 285.11516)" style="fill: #d62728; stroke: #d62728; stroke: #d62728"/>
     <path d="M 2 0 L -2 -0" transform="translate(114.781712 266.345823)" style="fill: #d62728; stroke: #d62728; stroke: #d62728"/>
     <path d="M 2 0 L -2 -0" transform="translate(149.467171 246.545205)" style="fill: #d62728; stroke: #d62728; stroke: #d62728"/>
     <path d="M 2 0 L -2 -0" transform="translate(184.15263 224.682021)" style="fill: #d62728; stroke: #d62728; stroke: #d62728"/>
     <path d="M 2 0 L -2 -0" transform="translate(218.838089 203.300103)" style="fill: #d62728; stroke: #d62728; stroke: #d62728"/>
     <path d="M 2 0 L -2 -0" transform="translate(253.523548 186.24957)" style="fill: #d62728; stroke: #d62728; stroke: #d62728"/>
     <path d="M 2 0 L -2 -0" transform="translate(288.209007 172.636645)" style="fill: #d62728; stroke: #d62728; stroke: #d62728"/>
     <path d="M 2 0 L -2 -0" transform="translate(322.894465 161.91131)" style="fill: #d62728; stroke: #d62728; stroke: #d62728"/>
     <path d="M 2 0 L -2 -0" transform="translate(357.579924 152.423513)" style="fill: #d62728; stroke: #d62728; stroke: #d62728"/>
     <path d="M 2 0 L -2 -0" transform="translate(392.265383 146.442076)" style="fill: #d62728; stroke: #d62728; stroke: #d62728"/>
    </g>
   </g>
   <g id="line2d_31">
    <g clip-path="url(#p12a001afb0)">
     <path d="M 2 0 L -2 -0" transform="translate(80.096253 280.440014)" style="fill: #d62728; stroke: #d62728; stroke: #d62728"/>
     <path d="M 2 0 L -2 -0" transform="translate(114.781712 257.064283)" style="fill: #d62728; stroke: #d62728; stroke: #d62728"/>
     <path d="M 2 0 L -2 -0" transform="translate(149.467171 231.625988)" style="fill: #d62728; stroke: #d62728; stroke: #d62728"/>
     <path d="M 2 0 L -2 -0" transform="translate(184.15263 209.350292)" style="fill: #d62728; stroke: #d62728; stroke: #d62728"/>
     <path d="M 2 0 L -2 -0" transform="translate(218.838089 190.71846)" style="fill: #d62728; stroke: #d62728; stroke: #d62728"/>
     <path d="M 2 0 L -2 -0" transform="translate(253.523548 174.492953)" style="fill: #d62728; stroke: #d62728; stroke: #d62728"/>
     <path d="M 2 0 L -2 -0" transform="translate(288.209007 163.286353)" style="fill: #d62728; stroke: #d62728; stroke: #d62728"/>
     <path d="M 2 0 L -2 -0" transform="translate(322.894465 153.5923)" style="fill: #d62728; stroke: #d62728; stroke: #d62728"/>
     <path d="M 2 0 L -2 -0" transform="translate(357.579924 146.923341)" style="fill: #d62728; stroke: #d62728; stroke: #d62728"/>
     <path d="M 2 0 L -2 -0" transform="translate(392.265383 141.973187)" style="fill: #d62728; stroke: #d62728; stroke: #d62728"/>
    </g>
   </g>
   <g id="line2d_32">
    <path d="M 80.096253 267.102097 
L 114.781712 243.726366 
L 149.467171 218.975593 
L 184.15263 198.556205 
L 218.838089 181.230663 
L 253.523548 167.342729 
L 288.209007 156.754899 
L 322.894465 146.23582 
L 357.579924 139.773118 
L 392.265383 133.379168 
" clip-path="url(#p12a001afb0)" style="fill: none; stroke-dasharray: 7.4,3.2; stroke-dashoffset: 0; stroke: #1f77b4; stroke-width: 2"/>
   </g>
   <g id="line2d_33">
    <path d="M 80.096253 267.170849 
L 114.781712 243.038845 
L 149.467171 218.356824 
L 184.15263 197.181162 
L 218.838089 179.993125 
L 253.523548 164.7989 
L 288.209007 156.067377 
L 322.894465 148.367136 
L 357.579924 142.72946 
L 392.265383 140.529392 
" clip-path="url(#p12a001afb0)" style="fill: none; stroke: #ff7f0e; stroke-width: 2; stroke-linecap: square"/>
   </g>
   <g id="line2d_34">
    <path d="M 80.096253 269.164661 
L 114.781712 244.276384 
L 149.467171 219.181849 
L 184.15263 196.631145 
L 218.838089 179.649364 
L 253.523548 164.180131 
L 288.209007 154.211069 
L 322.894465 145.410794 
L 357.579924 139.773118 
L 392.265383 135.854245 
" clip-path="url(#p12a001afb0)" style="fill: none; stroke-dasharray: 2,3.3; stroke-dashoffset: 0; stroke: #2ca02c; stroke-width: 2"/>
   </g>
   <g id="line2d_35">
    <path d="M 80.096253 265.039532 
L 114.781712 241.732554 
L 149.467171 216.363011 
L 184.15263 194.912341 
L 218.838089 177.793056 
L 253.523548 161.980062 
L 288.209007 148.023376 
L 322.894465 139.910622 
L 357.579924 132.966655 
L 392.265383 128.566518 
" clip-path="url(#p12a001afb0)" style="fill: none; stroke: #d3d3d3; stroke-width: 2.2; stroke-linecap: square"/>
   </g>
   <g id="line2d_36">
    <path d="M 80.096253 272.121004 
L 114.781712 243.313854 
L 149.467171 207.081471 
L 184.15263 172.086628 
L 218.838089 141.973187 
L 253.523548 118.3912 
L 288.209007 100.996906 
L 322.894465 90.271571 
L 357.579924 79.752492 
L 392.265383 75.146098 
" clip-path="url(#p12a001afb0)" style="fill: none; stroke: #000000; stroke-width: 0.8; stroke-linecap: square"/>
   </g>
   <g id="line2d_37">
    <path d="M 80.096253 162.942592 
L 114.781712 140.323135 
L 149.467171 120.591268 
L 184.15263 105.878309 
L 218.838089 96.390512 
L 253.523548 89.92781 
L 288.209007 88.140254 
L 322.894465 83.602613 
L 357.579924 80.440014 
L 392.265383 78.789962 
" clip-path="url(#p12a001afb0)" style="fill: none; stroke-dasharray: 3.2,0.8,0.5,0.8; stroke-dashoffset: 0; stroke: #000000; stroke-width: 0.7"/>
   </g>
   <g id="line2d_38">
    <path d="M 80.096253 282.777587 
L 114.781712 263.66449 
L 149.467171 239.944998 
L 184.15263 216.294259 
L 218.838089 195.943623 
L 253.523548 179.099347 
L 288.209007 167.067721 
L 322.894465 156.754899 
L 357.579924 149.467171 
L 392.265383 143.485734 
" clip-path="url(#p12a001afb0)" style="fill: none; stroke-dasharray: 12.8,3.2,2,3.2; stroke-dashoffset: 0; stroke: #d62728; stroke-width: 2"/>
   </g>
   <g id="patch_3">
    <path d="M 64.558267 296.424888 
L 64.558267 56.376762 
" style="fill: none; stroke: #000000; stroke-width: 1.271915; stroke-linejoin: miter; stroke-linecap: square"/>
   </g>
   <g id="patch_4">
    <path d="M 407.700241 296.424888 
L 407.700241 56.376762 
" style="fill: none; stroke: #000000; stroke-width: 1.271915; stroke-linejoin: miter; stroke-linecap: square"/>
   </g>
   <g id="patch_5">
    <path d="M 64.558267 296.424888 
L 407.700241 296.424888 
" style="fill: none; stroke: #000000; stroke-width: 1.271915; stroke-linejoin: miter; stroke-linecap: square"/>
   </g>
   <g id="patch_6">
    <path d="M 64.558267 56.376762 
L 407.700241 56.376762 
" style="fill: none; stroke: #000000; stroke-width: 1.271915; stroke-linejoin: miter; stroke-linecap: square"/>
   </g>
   <g id="legend_1">
    <g id="patch_7">
     <path d="M 67.358267 51.575799 
L 404.900241 51.575799 
Q 407.700241 51.575799 407.700241 48.775799 
L 407.700241 9.077049 
Q 407.700241 6.277049 404.900241 6.277049 
L 67.358267 6.277049 
Q 64.558267 6.277049 64.558267 9.077049 
L 64.558267 48.775799 
Q 64.558267 51.575799 67.358267 51.575799 
z
" style="fill: #ffffff; opacity: 0.8; stroke: #cccccc; stroke-width: 1.271915; stroke-linejoin: miter"/>
    </g>
    <g id="LineCollection_8">
     <path d="M 84.158267 24.614862 
L 84.158267 10.614862 
" style="fill: none; stroke: #1f77b4; stroke-width: 2"/>
    </g>
    <g id="line2d_39">
     <g>
      <path d="M 2 0 L -2 -0" transform="translate(84.158267 24.614862)" style="fill: #1f77b4; stroke: #1f77b4; stroke: #1f77b4"/>
     </g>
    </g>
    <g id="line2d_40">
     <g>
      <path d="M 2 0 L -2 -0" transform="translate(84.158267 10.614862)" style="fill: #1f77b4; stroke: #1f77b4; stroke: #1f77b4"/>
     </g>
    </g>
    <g id="line2d_41">
     <path d="M 70.158267 17.614862 
L 98.158267 17.614862 
" style="fill: none; stroke-dasharray: 7.4,3.2; stroke-dashoffset: 0; stroke: #1f77b4; stroke-width: 2"/>
    </g>
    <g id="line2d_42"/>
    <g id="text_20">
     <text style="font-size: 14px; font-family: 'DejaVu Sans', 'Liberation Sans', sans-serif; text-anchor: start" x="109.358267" y="22.514862" transform="rotate(-0 109.358267 22.514862)">RDE</text>
    </g>
    <g id="LineCollection_9">
     <path d="M 84.158267 45.164237 
L 84.158267 31.164237 
" style="fill: none; stroke: #ff7f0e; stroke-width: 2"/>
    </g>
    <g id="line2d_43">
     <g>
      <path d="M 2 0 L -2 -0" transform="translate(84.158267 45.164237)" style="fill: #ff7f0e; stroke: #ff7f0e; stroke: #ff7f0e"/>
     </g>
    </g>
    <g id="line2d_44">
     <g>
      <path d="M 2 0 L -2 -0" transform="translate(84.158267 31.164237)" style="fill: #ff7f0e; stroke: #ff7f0e; stroke: #ff7f0e"/>
     </g>
    </g>
    <g id="line2d_45">
     <path d="M 70.158267 38.164237 
L 98.158267 38.164237 
" style="fill: none; stroke: #ff7f0e; stroke-width: 2; stroke-linecap: square"/>
    </g>
    <g id="line2d_46"/>
    <g id="text_21">
     <text style="font-size: 14px; font-family: 'DejaVu Sans', 'Liberation Sans', sans-serif; text-anchor: start" x="109.358267" y="43.064237" transform="rotate(-0 109.358267 43.064237)">MVE</text>
    </g>
    <g id="LineCollection_10">
     <path d="M 159.535575 24.614862 
L 159.535575 10.614862 
" style="fill: none; stroke: #2ca02c; stroke-width: 2"/>
    </g>
    <g id="line2d_47">
     <g>
      <path d="M 2 0 L -2 -0" transform="translate(159.535575 24.614862)" style="fill: #2ca02c; stroke: #2ca02c; stroke: #2ca02c"/>
     </g>
    </g>
    <g id="line2d_48">
     <g>
      <path d="M 2 0 L -2 -0" transform="translate(159.535575 10.614862)" style="fill: #2ca02c; stroke: #2ca02c; stroke: #2ca02c"/>
     </g>
    </g>
    <g id="line2d_49">
     <path d="M 145.535575 17.614862 
L 173.535575 17.614862 
" style="fill: none; stroke-dasharray: 2,3.3; stroke-dashoffset: 0; stroke: #2ca02c; stroke-width: 2"/>
    </g>
    <g id="line2d_50"/>
    <g id="text_22">
     <text style="font-size: 14px; font-family: 'DejaVu Sans', 'Liberation Sans', sans-serif; text-anchor: start" x="184.735575" y="22.514862" transform="rotate(-0 184.735575 22.514862)">SDW</text>
    </g>
    <g id="LineCollection_11">
     <path d="M 159.535575 45.164237 
L 159.535575 31.164237 
" style="fill: none; stroke: #d3d3d3; stroke-width: 2"/>
    </g>
    <g id="line2d_51">
     <g>
      <path d="M 2 0 L -2 -0" transform="translate(159.535575 45.164237)" style="fill: #d3d3d3; stroke: #d3d3d3; stroke: #d3d3d3"/>
     </g>
    </g>
    <g id="line2d_52">
     <g>
      <path d="M 2 0 L -2 -0" transform="translate(159.535575 31.164237)" style="fill: #d3d3d3; stroke: #d3d3d3; stroke: #d3d3d3"/>
     </g>
    </g>
    <g id="line2d_53">
     <path d="M 145.535575 38.164237 
L 173.535575 38.164237 
" style="fill: none; stroke: #d3d3d3; stroke-width: 2.2; stroke-linecap: square"/>
    </g>
    <g id="line2d_54"/>
    <g id="text_23">
     <text style="font-size: 14px; font-family: 'DejaVu Sans', 'Liberation Sans', sans-serif; text-anchor: start" x="184.735575" y="43.064237" transform="rotate(-0 184.735575 43.064237)">SBE</text>
    </g>
    <g id="LineCollection_12">
     <path d="M 238.126951 24.614862 
L 238.126951 10.614862 
" style="fill: none; stroke: #000000; stroke-width: 0.8"/>
    </g>
    <g id="line2d_55">
     <g>
      <path d="M 2 0 L -2 -0" transform="translate(238.126951 24.614862)" style="stroke: #000000; stroke: #000000"/>
     </g>
    </g>
    <g id="line2d_56">
     <g>
      <path d="M 2 0 L -2 -0" transform="translate(238.126951 10.614862)" style="stroke: #000000; stroke: #000000"/>
     </g>
    </g>
    <g id="line2d_57">
     <path d="M 224.126951 17.614862 
L 252.126951 17.614862 
" style="fill: none; stroke: #000000; stroke-width: 0.8; stroke-linecap: square"/>
    </g>
    <g id="line2d_58"/>
    <g id="text_24">
     <text style="font-size: 14px; font-family: 'DejaVu Sans', 'Liberation Sans', sans-serif; text-anchor: start" x="263.326951" y="22.514862" transform="rotate(-0 263.326951 22.514862)">SVE</text>
    </g>
    <g id="LineCollection_13">
     <path d="M 238.126951 45.164237 
L 238.126951 31.164237 
" style="fill: none; stroke: #000000; stroke-width: 0.8"/>
    </g>
    <g id="line2d_59">
     <g>
      <path d="M 2 0 L -2 -0" transform="translate(238.126951 45.164237)" style="stroke: #000000; stroke: #000000"/>
     </g>
    </g>
    <g id="line2d_60">
     <g>
      <path d="M 2 0 L -2 -0" transform="translate(238.126951 31.164237)" style="stroke: #000000; stroke: #000000"/>
     </g>
    </g>
    <g id="line2d_61">
     <path d="M 224.126951 38.164237 
L 252.126951 38.164237 
" style="fill: none; stroke-dasharray: 3.2,0.8,0.5,0.8; stroke-dashoffset: 0; stroke: #000000; stroke-width: 0.7"/>
    </g>
    <g id="line2d_62"/>
    <g id="text_25">
     <text style="font-size: 14px; font-family: 'DejaVu Sans', 'Liberation Sans', sans-serif; text-anchor: start" x="263.326951" y="43.064237" transform="rotate(-0 263.326951 43.064237)">AVE</text>
    </g>
    <g id="LineCollection_14">
     <path d="M 311.068969 24.614862 
L 311.068969 10.614862 
" style="fill: none; stroke: #d62728; stroke-width: 2"/>
    </g>
    <g id="line2d_63">
     <g>
      <path d="M 2 0 L -2 -0" transform="translate(311.068969 24.614862)" style="fill: #d62728; stroke: #d62728; stroke: #d62728"/>
     </g>
    </g>
    <g id="line2d_64">
     <g>
      <path d="M 2 0 L -2 -0" transform="translate(311.068969 10.614862)" style="fill: #d62728; stroke: #d62728; stroke: #d62728"/>
     </g>
    </g>
    <g id="line2d_65">
     <path d="M 297.068969 17.614862 
L 325.068969 17.614862 
" style="fill: none; stroke-dasharray: 12.8,3.2,2,3.2; stroke-dashoffset: 0; stroke: #d62728; stroke-width: 2"/>
    </g>
    <g id="line2d_66"/>
    <g id="text_26">
     <text style="font-size: 14px; font-family: 'DejaVu Sans', 'Liberation Sans', sans-serif; text-anchor: start" x="336.268969" y="22.514862" transform="rotate(-0 336.268969 22.514862)">proposed</text>
    </g>
   </g>
  </g>
  <g id="axes_2">
   <g id="patch_8">
    <path d="M 505.465796 292.059127 
L 858.026813 292.059127 
L 858.026813 56.376762 
L 505.465796 56.376762 
z
" style="fill: #ffffff"/>
   </g>
   <g id="matplotlib.axis_3">
    <g id="xtick_11">
     <g id="line2d_67">
      <g>
       <path d="M 0 0 L 0 3.6" transform="translate(521.485046 292.059127)" style="stroke: #000000; stroke-width: 0.9; stroke: #000000; stroke-width: 0.9"/>
      </g>
     </g>
     <g id="text_27">
      
      <g transform="translate(509.165046 310.1407)">
       <text>
        <tspan x="0" y="-0.367188" style="font-size: 14px; font-family: 'DejaVu Sans', 'Liberation Sans', sans-serif">1</tspan>
        <tspan x="8.907227" y="-0.367188" style="font-size: 14px; font-family: 'DejaVu Sans', 'Liberation Sans', sans-serif">0</tspan>
        <tspan x="17.948438" y="-5.726562" style="font-size: 9.8px; font-family: 'DejaVu Sans', 'Liberation Sans', sans-serif">2</tspan>
       </text>
      </g>
     </g>
    </g>
    <g id="xtick_12">
     <g id="line2d_68">
      <g>
       <path d="M 0 0 L 0 3.6" transform="translate(721.485046 292.059127)" style="stroke: #000000; stroke-width: 0.9; stroke: #000000; stroke-width: 0.9"/>
      </g>
     </g>
     <g id="text_28">
      
      <g transform="translate(709.165046 310.1407)">
       <text>
        <tspan x="0" y="-0.367188" style="font-size: 14px; font-family: 'DejaVu Sans', 'Liberation Sans', sans-serif">1</tspan>
        <tspan x="8.907227" y="-0.367188" style="font-size: 14px; font-family: 'DejaVu Sans', 'Liberation Sans', sans-serif">0</tspan>
        <tspan x="17.948438" y="-5.726562" style="font-size: 9.8px; font-family: 'DejaVu Sans', 'Liberation Sans', sans-serif">3</tspan>
       </text>
      </g>
     </g>
    </g>
    <g id="xtick_13">
     <g id="line2d_69">
      <g>
       <path d="M 0 0 L 0 2" transform="translate(512.333548 292.059127)" style="stroke: #000000; stroke-width: 0.6; stroke: #000000; stroke-width: 0.6"/>
      </g>
     </g>
    </g>
    <g id="xtick_14">
     <g id="line2d_70">
      <g>
       <path d="M 0 0 L 0 2" transform="translate(581.691046 292.059127)" style="stroke: #000000; stroke-width: 0.6; stroke: #000000; stroke-width: 0.6"/>
      </g>
     </g>
    </g>
    <g id="xtick_15">
     <g id="line2d_71">
      <g>
       <path d="M 0 0 L 0 2" transform="translate(616.909297 292.059127)" style="stroke: #000000; stroke-width: 0.6; stroke: #000000; stroke-width: 0.6"/>
      </g>
     </g>
    </g>
    <g id="xtick_16">
     <g id="line2d_72">
      <g>
       <path d="M 0 0 L 0 2" transform="translate(641.897045 292.059127)" style="stroke: #000000; stroke-width: 0.6; stroke: #000000; stroke-width: 0.6"/>
      </g>
     </g>
    </g>
    <g id="xtick_17">
     <g id="line2d_73">
      <g>
       <path d="M 0 0 L 0 2" transform="translate(661.279047 292.059127)" style="stroke: #000000; stroke-width: 0.6; stroke: #000000; stroke-width: 0.6"/>
      </g>
     </g>
    </g>
    <g id="xtick_18">
     <g id="line2d_74">
      <g>
       <path d="M 0 0 L 0 2" transform="translate(677.115296 292.059127)" style="stroke: #000000; stroke-width: 0.6; stroke: #000000; stroke-width: 0.6"/>
      </g>
     </g>
    </g>
    <g id="xtick_19">
     <g id="line2d_75">
      <g>
       <path d="M 0 0 L 0 2" transform="translate(690.504654 292.059127)" style="stroke: #000000; stroke-width: 0.6; stroke: #000000; stroke-width: 0.6"/>
      </g>
     </g>
    </g>
    <g id="xtick_20">
     <g id="line2d_76">
      <g>
       <path d="M 0 0 L 0 2" transform="translate(702.103044 292.059127)" style="stroke: #000000; stroke-width: 0.6; stroke: #000000; stroke-width: 0.6"/>
      </g>
     </g>
    </g>
    <g id="xtick_21">
     <g id="line2d_77">
      <g>
       <path d="M 0 0 L 0 2" transform="translate(712.333548 292.059127)" style="stroke: #000000; stroke-width: 0.6; stroke: #000000; stroke-width: 0.6"/>
      </g>
     </g>
    </g>
    <g id="xtick_22">
     <g id="line2d_78">
      <g>
       <path d="M 0 0 L 0 2" transform="translate(781.691046 292.059127)" style="stroke: #000000; stroke-width: 0.6; stroke: #000000; stroke-width: 0.6"/>
      </g>
     </g>
    </g>
    <g id="xtick_23">
     <g id="line2d_79">
      <g>
       <path d="M 0 0 L 0 2" transform="translate(816.909297 292.059127)" style="stroke: #000000; stroke-width: 0.6; stroke: #000000; stroke-width: 0.6"/>
      </g>
     </g>
    </g>
    <g id="xtick_24">
     <g id="line2d_80">
      <g>
       <path d="M 0 0 L 0 2" transform="translate(841.897045 292.059127)" style="stroke: #000000; stroke-width: 0.6; stroke: #000000; stroke-width: 0.6"/>
      </g>
     </g>
    </g>
    <g id="text_29">
     <text style="font-size: 14px; font-family: 'DejaVu Sans', 'Liberation Sans', sans-serif; text-anchor: middle" x="681.746305" y="327.827579" transform="rotate(-0 681.746305 327.827579)">Data length</text>
    </g>
   </g>
   <g id="matplotlib.axis_4">
    <g id="ytick_8">
     <g id="line2d_81">
      <g>
       <path d="M 0 0 L -3.6 0" transform="translate(505.465796 275.586112)" style="stroke: #000000; stroke-width: 0.9; stroke: #000000; stroke-width: 0.9"/>
      </g>
     </g>
     <g id="text_30">
      <text style="font-size: 14px; font-family: 'DejaVu Sans', 'Liberation Sans', sans-serif; text-anchor: end" x="498.365796" y="281.248779" transform="rotate(-0 498.365796 281.248779)">0.8</text>
     </g>
    </g>
    <g id="ytick_9">
     <g id="line2d_82">
      <g>
       <path d="M 0 0 L -3.6 0" transform="translate(505.465796 240.536267)" style="stroke: #000000; stroke-width: 0.9; stroke: #000000; stroke-width: 0.9"/>
      </g>
     </g>
     <g id="text_31">
      <text style="font-size: 14px; font-family: 'DejaVu Sans', 'Liberation Sans', sans-serif; text-anchor: end" x="498.365796" y="246.198934" transform="rotate(-0 498.365796 246.198934)">1.0</text>
     </g>
    </g>
    <g id="ytick_10">
     <g id="line2d_83">
      <g>
       <path d="M 0 0 L -3.6 0" transform="translate(505.465796 205.486421)" style="stroke: #000000; stroke-width: 0.9; stroke: #000000; stroke-width: 0.9"/>
      </g>
     </g>
     <g id="text_32">
      <text style="font-size: 14px; font-family: 'DejaVu Sans', 'Liberation Sans', sans-serif; text-anchor: end" x="498.365796" y="211.149088" transform="rotate(-0 498.365796 211.149088)">1.2</text>
     </g>
    </g>
    <g id="ytick_11">
     <g id="line2d_84">
      <g>
       <path d="M 0 0 L -3.6 0" transform="translate(505.465796 170.436576)" style="stroke: #000000; stroke-width: 0.9; stroke: #000000; stroke-width: 0.9"/>
      </g>
     </g>
     <g id="text_33">
      <text style="font-size: 14px; font-family: 'DejaVu Sans', 'Liberation Sans', sans-serif; text-anchor: end" x="498.365796" y="176.099243" transform="rotate(-0 498.365796 176.099243)">1.4</text>
     </g>
    </g>
    <g id="ytick_12">
     <g id="line2d_85">
      <g>
       <path d="M 0 0 L -3.6 0" transform="translate(505.465796 135.386731)" style="stroke: #000000; stroke-width: 0.9; stroke: #000000; stroke-width: 0.9"/>
      </g>
     </g>
     <g id="text_34">
      <text style="font-size: 14px; font-family: 'DejaVu Sans', 'Liberation Sans', sans-serif; text-anchor: end" x="498.365796" y="141.049398" transform="rotate(-0 498.365796 141.049398)">1.6</text>
     </g>
    </g>
    <g id="ytick_13">
     <g id="line2d_86">
      <g>
       <path d="M 0 0 L -3.6 0" transform="translate(505.465796 100.336886)" style="stroke: #000000; stroke-width: 0.9; stroke: #000000; stroke-width: 0.9"/>
      </g>
     </g>
     <g id="text_35">
      <text style="font-size: 14px; font-family: 'DejaVu Sans', 'Liberation Sans', sans-serif; text-anchor: end" x="498.365796" y="105.999553" transform="rotate(-0 498.365796 105.999553)">1.8</text>
     </g>
    </g>
    <g id="ytick_14">
     <g id="line2d_87">
      <g>
       <path d="M 0 0 L -3.6 0" transform="translate(505.465796 65.28704)" style="stroke: #000000; stroke-width: 0.9; stroke: #000000; stroke-width: 0.9"/>
      </g>
     </g>
     <g id="text_36">
      <text style="font-size: 14px; font-family: 'DejaVu Sans', 'Liberation Sans', sans-serif; text-anchor: end" x="498.365796" y="70.949707" transform="rotate(-0 498.365796 70.949707)">2.0</text>
     </g>
    </g>
    <g id="text_37">
     <text style="font-size: 14px; font-family: 'DejaVu Sans', 'Liberation Sans', sans-serif; text-anchor: middle" x="469.189858" y="174.217944" transform="rotate(-90 469.189858 174.217944)">RMSE</text>
    </g>
   </g>
   <g id="LineCollection_15">
    <path d="M 521.485046 183.568237 
L 521.485046 158.129942 
" clip-path="url(#p371b721e72)" style="fill: none; stroke: #1f77b4; stroke-width: 2"/>
    <path d="M 581.691046 207.287728 
L 581.691046 160.33001 
" clip-path="url(#p371b721e72)" style="fill: none; stroke: #1f77b4; stroke-width: 2"/>
    <path d="M 661.279047 218.56308 
L 661.279047 188.930904 
" clip-path="url(#p371b721e72)" style="fill: none; stroke: #1f77b4; stroke-width: 2"/>
    <path d="M 721.485046 244.688897 
L 721.485046 223.37573 
" clip-path="url(#p371b721e72)" style="fill: none; stroke: #1f77b4; stroke-width: 2"/>
    <path d="M 781.691046 254.72671 
L 781.691046 222.06944 
" clip-path="url(#p371b721e72)" style="fill: none; stroke: #1f77b4; stroke-width: 2"/>
    <path d="M 841.897045 260.914404 
L 841.897045 239.738742 
" clip-path="url(#p371b721e72)" style="fill: none; stroke: #1f77b4; stroke-width: 2"/>
   </g>
   <g id="LineCollection_16">
    <path d="M 521.485046 192.024751 
L 521.485046 154.761086 
" clip-path="url(#p371b721e72)" style="fill: none; stroke: #ff7f0e; stroke-width: 2"/>
    <path d="M 581.691046 217.806806 
L 581.691046 187.074596 
" clip-path="url(#p371b721e72)" style="fill: none; stroke: #ff7f0e; stroke-width: 2"/>
    <path d="M 661.279047 224.200756 
L 661.279047 202.750086 
" clip-path="url(#p371b721e72)" style="fill: none; stroke: #ff7f0e; stroke-width: 2"/>
    <path d="M 721.485046 238.08869 
L 721.485046 222.06944 
" clip-path="url(#p371b721e72)" style="fill: none; stroke: #ff7f0e; stroke-width: 2"/>
    <path d="M 781.691046 245.788931 
L 781.691046 224.750773 
" clip-path="url(#p371b721e72)" style="fill: none; stroke: #ff7f0e; stroke-width: 2"/>
    <path d="M 841.897045 253.970437 
L 841.897045 240.63252 
" clip-path="url(#p371b721e72)" style="fill: none; stroke: #ff7f0e; stroke-width: 2"/>
   </g>
   <g id="LineCollection_17">
    <path d="M 521.485046 184.874527 
L 521.485046 147.129598 
" clip-path="url(#p371b721e72)" style="fill: none; stroke: #2ca02c; stroke-width: 2"/>
    <path d="M 581.691046 211.137848 
L 581.691046 175.936748 
" clip-path="url(#p371b721e72)" style="fill: none; stroke: #2ca02c; stroke-width: 2"/>
    <path d="M 661.279047 214.025438 
L 661.279047 194.706085 
" clip-path="url(#p371b721e72)" style="fill: none; stroke: #2ca02c; stroke-width: 2"/>
    <path d="M 721.485046 238.226195 
L 721.485046 216.775524 
" clip-path="url(#p371b721e72)" style="fill: none; stroke: #2ca02c; stroke-width: 2"/>
    <path d="M 781.691046 246.132692 
L 781.691046 226.813338 
" clip-path="url(#p371b721e72)" style="fill: none; stroke: #2ca02c; stroke-width: 2"/>
    <path d="M 841.897045 256.239257 
L 841.897045 241.251289 
" clip-path="url(#p371b721e72)" style="fill: none; stroke: #2ca02c; stroke-width: 2"/>
   </g>
   <g id="LineCollection_18">
    <path d="M 521.485046 184.255758 
L 521.485046 130.216569 
" clip-path="url(#p371b721e72)" style="fill: none; stroke: #d3d3d3; stroke-width: 2"/>
    <path d="M 581.691046 174.974218 
L 581.691046 137.848058 
" clip-path="url(#p371b721e72)" style="fill: none; stroke: #d3d3d3; stroke-width: 2"/>
    <path d="M 661.279047 191.474734 
L 661.279047 150.979718 
" clip-path="url(#p371b721e72)" style="fill: none; stroke: #d3d3d3; stroke-width: 2"/>
    <path d="M 721.485046 217.944311 
L 721.485046 188.380887 
" clip-path="url(#p371b721e72)" style="fill: none; stroke: #d3d3d3; stroke-width: 2"/>
    <path d="M 781.691046 228.738398 
L 781.691046 210.519079 
" clip-path="url(#p371b721e72)" style="fill: none; stroke: #d3d3d3; stroke-width: 2"/>
    <path d="M 841.897045 250.739086 
L 841.897045 230.457202 
" clip-path="url(#p371b721e72)" style="fill: none; stroke: #d3d3d3; stroke-width: 2"/>
   </g>
   <g id="LineCollection_19">
    <path d="M 521.485046 168.64902 
L 521.485046 109.040908 
" clip-path="url(#p371b721e72)" style="fill: none; stroke: #000000; stroke-width: 0.8"/>
    <path d="M 581.691046 167.136473 
L 581.691046 137.779306 
" clip-path="url(#p371b721e72)" style="fill: none; stroke: #000000; stroke-width: 0.8"/>
    <path d="M 661.279047 182.468202 
L 661.279047 156.411138 
" clip-path="url(#p371b721e72)" style="fill: none; stroke: #000000; stroke-width: 0.8"/>
    <path d="M 721.485046 188.380887 
L 721.485046 165.211413 
" clip-path="url(#p371b721e72)" style="fill: none; stroke: #000000; stroke-width: 0.8"/>
    <path d="M 781.691046 191.130973 
L 781.691046 170.299072 
" clip-path="url(#p371b721e72)" style="fill: none; stroke: #000000; stroke-width: 0.8"/>
    <path d="M 841.897045 202.337573 
L 841.897045 185.562049 
" clip-path="url(#p371b721e72)" style="fill: none; stroke: #000000; stroke-width: 0.8"/>
   </g>
   <g id="LineCollection_20">
    <path d="M 521.485046 137.504297 
L 521.485046 74.596081 
" clip-path="url(#p371b721e72)" style="fill: none; stroke: #000000; stroke-width: 0.8"/>
    <path d="M 581.691046 138.191818 
L 581.691046 67.033345 
" clip-path="url(#p371b721e72)" style="fill: none; stroke: #000000; stroke-width: 0.8"/>
    <path d="M 661.279047 132.554142 
L 661.279047 73.28979 
" clip-path="url(#p371b721e72)" style="fill: none; stroke: #000000; stroke-width: 0.8"/>
    <path d="M 721.485046 133.585425 
L 721.485046 93.227913 
" clip-path="url(#p371b721e72)" style="fill: none; stroke: #000000; stroke-width: 0.8"/>
    <path d="M 781.691046 132.416638 
L 781.691046 90.202819 
" clip-path="url(#p371b721e72)" style="fill: none; stroke: #000000; stroke-width: 0.8"/>
    <path d="M 841.897045 149.742179 
L 841.897045 119.009969 
" clip-path="url(#p371b721e72)" style="fill: none; stroke: #000000; stroke-width: 0.8"/>
   </g>
   <g id="LineCollection_21">
    <path d="M 521.485046 223.581987 
L 521.485046 170.505328 
" clip-path="url(#p371b721e72)" style="fill: none; stroke: #d62728; stroke-width: 2"/>
    <path d="M 581.691046 225.300791 
L 581.691046 207.287728 
" clip-path="url(#p371b721e72)" style="fill: none; stroke: #d62728; stroke-width: 2"/>
    <path d="M 661.279047 244.001375 
L 661.279047 215.194225 
" clip-path="url(#p371b721e72)" style="fill: none; stroke: #d62728; stroke-width: 2"/>
    <path d="M 721.485046 255.276727 
L 721.485046 230.113441 
" clip-path="url(#p371b721e72)" style="fill: none; stroke: #d62728; stroke-width: 2"/>
    <path d="M 781.691046 272.464765 
L 781.691046 241.663802 
" clip-path="url(#p371b721e72)" style="fill: none; stroke: #d62728; stroke-width: 2"/>
    <path d="M 841.897045 281.26504 
L 841.897045 263.870746 
" clip-path="url(#p371b721e72)" style="fill: none; stroke: #d62728; stroke-width: 2"/>
   </g>
   <g id="line2d_88">
    <g clip-path="url(#p371b721e72)">
     <path d="M 2 0 L -2 -0" transform="translate(521.485046 183.568237)" style="fill: #1f77b4; stroke: #1f77b4; stroke: #1f77b4"/>
     <path d="M 2 0 L -2 -0" transform="translate(581.691046 207.287728)" style="fill: #1f77b4; stroke: #1f77b4; stroke: #1f77b4"/>
     <path d="M 2 0 L -2 -0" transform="translate(661.279047 218.56308)" style="fill: #1f77b4; stroke: #1f77b4; stroke: #1f77b4"/>
     <path d="M 2 0 L -2 -0" transform="translate(721.485046 244.688897)" style="fill: #1f77b4; stroke: #1f77b4; stroke: #1f77b4"/>
     <path d="M 2 0 L -2 -0" transform="translate(781.691046 254.72671)" style="fill: #1f77b4; stroke: #1f77b4; stroke: #1f77b4"/>
     <path d="M 2 0 L -2 -0" transform="translate(841.897045 260.914404)" style="fill: #1f77b4; stroke: #1f77b4; stroke: #1f77b4"/>
    </g>
   </g>
   <g id="line2d_89">
    <g clip-path="url(#p371b721e72)">
     <path d="M 2 0 L -2 -0" transform="translate(521.485046 158.129942)" style="fill: #1f77b4; stroke: #1f77b4; stroke: #1f77b4"/>
     <path d="M 2 0 L -2 -0" transform="translate(581.691046 160.33001)" style="fill: #1f77b4; stroke: #1f77b4; stroke: #1f77b4"/>
     <path d="M 2 0 L -2 -0" transform="translate(661.279047 188.930904)" style="fill: #1f77b4; stroke: #1f77b4; stroke: #1f77b4"/>
     <path d="M 2 0 L -2 -0" transform="translate(721.485046 223.37573)" style="fill: #1f77b4; stroke: #1f77b4; stroke: #1f77b4"/>
     <path d="M 2 0 L -2 -0" transform="translate(781.691046 222.06944)" style="fill: #1f77b4; stroke: #1f77b4; stroke: #1f77b4"/>
     <path d="M 2 0 L -2 -0" transform="translate(841.897045 239.738742)" style="fill: #1f77b4; stroke: #1f77b4; stroke: #1f77b4"/>
    </g>
   </g>
   <g id="line2d_90">
    <g clip-path="url(#p371b721e72)">
     <path d="M 2 0 L -2 -0" transform="translate(521.485046 192.024751)" style="fill: #ff7f0e; stroke: #ff7f0e; stroke: #ff7f0e"/>
     <path d="M 2 0 L -2 -0" transform="translate(581.691046 217.806806)" style="fill: #ff7f0e; stroke: #ff7f0e; stroke: #ff7f0e"/>
     <path d="M 2 0 L -2 -0" transform="translate(661.279047 224.200756)" style="fill: #ff7f0e; stroke: #ff7f0e; stroke: #ff7f0e"/>
     <path d="M 2 0 L -2 -0" transform="translate(721.485046 238.08869)" style="fill: #ff7f0e; stroke: #ff7f0e; stroke: #ff7f0e"/>
     <path d="M 2 0 L -2 -0" transform="translate(781.691046 245.788931)" style="fill: #ff7f0e; stroke: #ff7f0e; stroke: #ff7f0e"/>
     <path d="M 2 0 L -2 -0" transform="translate(841.897045 253.970437)" style="fill: #ff7f0e; stroke: #ff7f0e; stroke: #ff7f0e"/>
    </g>
   </g>
   <g id="line2d_91">
    <g clip-path="url(#p371b721e72)">
     <path d="M 2 0 L -2 -0" transform="translate(521.485046 154.761086)" style="fill: #ff7f0e; stroke: #ff7f0e; stroke: #ff7f0e"/>
     <path d="M 2 0 L -2 -0" transform="translate(581.691046 187.074596)" style="fill: #ff7f0e; stroke: #ff7f0e; stroke: #ff7f0e"/>
     <path d="M 2 0 L -2 -0" transform="translate(661.279047 202.750086)" style="fill: #ff7f0e; stroke: #ff7f0e; stroke: #ff7f0e"/>
     <path d="M 2 0 L -2 -0" transform="translate(721.485046 222.06944)" style="fill: #ff7f0e; stroke: #ff7f0e; stroke: #ff7f0e"/>
     <path d="M 2 0 L -2 -0" transform="translate(781.691046 224.750773)" style="fill: #ff7f0e; stroke: #ff7f0e; stroke: #ff7f0e"/>
     <path d="M 2 0 L -2 -0" transform="translate(841.897045 240.63252)" style="fill: #ff7f0e; stroke: #ff7f0e; stroke: #ff7f0e"/>
    </g>
   </g>
   <g id="line2d_92">
    <g clip-path="url(#p371b721e72)">
     <path d="M 2 0 L -2 -0" transform="translate(521.485046 184.874527)" style="fill: #2ca02c; stroke: #2ca02c; stroke: #2ca02c"/>
     <path d="M 2 0 L -2 -0" transform="translate(581.691046 211.137848)" style="fill: #2ca02c; stroke: #2ca02c; stroke: #2ca02c"/>
     <path d="M 2 0 L -2 -0" transform="translate(661.279047 214.025438)" style="fill: #2ca02c; stroke: #2ca02c; stroke: #2ca02c"/>
     <path d="M 2 0 L -2 -0" transform="translate(721.485046 238.226195)" style="fill: #2ca02c; stroke: #2ca02c; stroke: #2ca02c"/>
     <path d="M 2 0 L -2 -0" transform="translate(781.691046 246.132692)" style="fill: #2ca02c; stroke: #2ca02c; stroke: #2ca02c"/>
     <path d="M 2 0 L -2 -0" transform="translate(841.897045 256.239257)" style="fill: #2ca02c; stroke: #2ca02c; stroke: #2ca02c"/>
    </g>
   </g>
   <g id="line2d_93">
    <g clip-path="url(#p371b721e72)">
     <path d="M 2 0 L -2 -0" transform="translate(521.485046 147.129598)" style="fill: #2ca02c; stroke: #2ca02c; stroke: #2ca02c"/>
     <path d="M 2 0 L -2 -0" transform="translate(581.691046 175.936748)" style="fill: #2ca02c; stroke: #2ca02c; stroke: #2ca02c"/>
     <path d="M 2 0 L -2 -0" transform="translate(661.279047 194.706085)" style="fill: #2ca02c; stroke: #2ca02c; stroke: #2ca02c"/>
     <path d="M 2 0 L -2 -0" transform="translate(721.485046 216.775524)" style="fill: #2ca02c; stroke: #2ca02c; stroke: #2ca02c"/>
     <path d="M 2 0 L -2 -0" transform="translate(781.691046 226.813338)" style="fill: #2ca02c; stroke: #2ca02c; stroke: #2ca02c"/>
     <path d="M 2 0 L -2 -0" transform="translate(841.897045 241.251289)" style="fill: #2ca02c; stroke: #2ca02c; stroke: #2ca02c"/>
    </g>
   </g>
   <g id="line2d_94">
    <g clip-path="url(#p371b721e72)">
     <path d="M 2 0 L -2 -0" transform="translate(521.485046 184.255758)" style="fill: #d3d3d3; stroke: #d3d3d3; stroke: #d3d3d3"/>
     <path d="M 2 0 L -2 -0" transform="translate(581.691046 174.974218)" style="fill: #d3d3d3; stroke: #d3d3d3; stroke: #d3d3d3"/>
     <path d="M 2 0 L -2 -0" transform="translate(661.279047 191.474734)" style="fill: #d3d3d3; stroke: #d3d3d3; stroke: #d3d3d3"/>
     <path d="M 2 0 L -2 -0" transform="translate(721.485046 217.944311)" style="fill: #d3d3d3; stroke: #d3d3d3; stroke: #d3d3d3"/>
     <path d="M 2 0 L -2 -0" transform="translate(781.691046 228.738398)" style="fill: #d3d3d3; stroke: #d3d3d3; stroke: #d3d3d3"/>
     <path d="M 2 0 L -2 -0" transform="translate(841.897045 250.739086)" style="fill: #d3d3d3; stroke: #d3d3d3; stroke: #d3d3d3"/>
    </g>
   </g>
   <g id="line2d_95">
    <g clip-path="url(#p371b721e72)">
     <path d="M 2 0 L -2 -0" transform="translate(521.485046 130.216569)" style="fill: #d3d3d3; stroke: #d3d3d3; stroke: #d3d3d3"/>
     <path d="M 2 0 L -2 -0" transform="translate(581.691046 137.848058)" style="fill: #d3d3d3; stroke: #d3d3d3; stroke: #d3d3d3"/>
     <path d="M 2 0 L -2 -0" transform="translate(661.279047 150.979718)" style="fill: #d3d3d3; stroke: #d3d3d3; stroke: #d3d3d3"/>
     <path d="M 2 0 L -2 -0" transform="translate(721.485046 188.380887)" style="fill: #d3d3d3; stroke: #d3d3d3; stroke: #d3d3d3"/>
     <path d="M 2 0 L -2 -0" transform="translate(781.691046 210.519079)" style="fill: #d3d3d3; stroke: #d3d3d3; stroke: #d3d3d3"/>
     <path d="M 2 0 L -2 -0" transform="translate(841.897045 230.457202)" style="fill: #d3d3d3; stroke: #d3d3d3; stroke: #d3d3d3"/>
    </g>
   </g>
   <g id="line2d_96">
    <g clip-path="url(#p371b721e72)">
     <path d="M 2 0 L -2 -0" transform="translate(521.485046 168.64902)" style="stroke: #000000; stroke: #000000"/>
     <path d="M 2 0 L -2 -0" transform="translate(581.691046 167.136473)" style="stroke: #000000; stroke: #000000"/>
     <path d="M 2 0 L -2 -0" transform="translate(661.279047 182.468202)" style="stroke: #000000; stroke: #000000"/>
     <path d="M 2 0 L -2 -0" transform="translate(721.485046 188.380887)" style="stroke: #000000; stroke: #000000"/>
     <path d="M 2 0 L -2 -0" transform="translate(781.691046 191.130973)" style="stroke: #000000; stroke: #000000"/>
     <path d="M 2 0 L -2 -0" transform="translate(841.897045 202.337573)" style="stroke: #000000; stroke: #000000"/>
    </g>
   </g>
   <g id="line2d_97">
    <g clip-path="url(#p371b721e72)">
     <path d="M 2 0 L -2 -0" transform="translate(521.485046 109.040908)" style="stroke: #000000; stroke: #000000"/>
     <path d="M 2 0 L -2 -0" transform="translate(581.691046 137.779306)" style="stroke: #000000; stroke: #000000"/>
     <path d="M 2 0 L -2 -0" transform="translate(661.279047 156.411138)" style="stroke: #000000; stroke: #000000"/>
     <path d="M 2 0 L -2 -0" transform="translate(721.485046 165.211413)" style="stroke: #000000; stroke: #000000"/>
     <path d="M 2 0 L -2 -0" transform="translate(781.691046 170.299072)" style="stroke: #000000; stroke: #000000"/>
     <path d="M 2 0 L -2 -0" transform="translate(841.897045 185.562049)" style="stroke: #000000; stroke: #000000"/>
    </g>
   </g>
   <g id="line2d_98">
    <g clip-path="url(#p371b721e72)">
     <path d="M 2 0 L -2 -0" transform="translate(521.485046 137.504297)" style="stroke: #000000; stroke: #000000"/>
     <path d="M 2 0 L -2 -0" transform="translate(581.691046 138.191818)" style="stroke: #000000; stroke: #000000"/>
     <path d="M 2 0 L -2 -0" transform="translate(661.279047 132.554142)" style="stroke: #000000; stroke: #000000"/>
     <path d="M 2 0 L -2 -0" transform="translate(721.485046 133.585425)" style="stroke: #000000; stroke: #000000"/>
     <path d="M 2 0 L -2 -0" transform="translate(781.691046 132.416638)" style="stroke: #000000; stroke: #000000"/>
     <path d="M 2 0 L -2 -0" transform="translate(841.897045 149.742179)" style="stroke: #000000; stroke: #000000"/>
    </g>
   </g>
   <g id="line2d_99">
    <g clip-path="url(#p371b721e72)">
     <path d="M 2 0 L -2 -0" transform="translate(521.485046 74.596081)" style="stroke: #000000; stroke: #000000"/>
     <path d="M 2 0 L -2 -0" transform="translate(581.691046 67.033345)" style="stroke: #000000; stroke: #000000"/>
     <path d="M 2 0 L -2 -0" transform="translate(661.279047 73.28979)" style="stroke: #000000; stroke: #000000"/>
     <path d="M 2 0 L -2 -0" transform="translate(721.485046 93.227913)" style="stroke: #000000; stroke: #000000"/>
     <path d="M 2 0 L -2 -0" transform="translate(781.691046 90.202819)" style="stroke: #000000; stroke: #000000"/>
     <path d="M 2 0 L -2 -0" transform="translate(841.897045 119.009969)" style="stroke: #000000; stroke: #000000"/>
    </g>
   </g>
   <g id="line2d_100">
    <g clip-path="url(#p371b721e72)">
     <path d="M 2 0 L -2 -0" transform="translate(521.485046 223.581987)" style="fill: #d62728; stroke: #d62728; stroke: #d62728"/>
     <path d="M 2 0 L -2 -0" transform="translate(581.691046 225.300791)" style="fill: #d62728; stroke: #d62728; stroke: #d62728"/>
     <path d="M 2 0 L -2 -0" transform="translate(661.279047 244.001375)" style="fill: #d62728; stroke: #d62728; stroke: #d62728"/>
     <path d="M 2 0 L -2 -0" transform="translate(721.485046 255.276727)" style="fill: #d62728; stroke: #d62728; stroke: #d62728"/>
     <path d="M 2 0 L -2 -0" transform="translate(781.691046 272.464765)" style="fill: #d62728; stroke: #d62728; stroke: #d62728"/>
     <path d="M 2 0 L -2 -0" transform="translate(841.897045 281.26504)" style="fill: #d62728; stroke: #d62728; stroke: #d62728"/>
    </g>
   </g>
   <g id="line2d_101">
    <g clip-path="url(#p371b721e72)">
     <path d="M 2 0 L -2 -0" transform="translate(521.485046 170.505328)" style="fill: #d62728; stroke: #d62728; stroke: #d62728"/>
     <path d="M 2 0 L -2 -0" transform="translate(581.691046 207.287728)" style="fill: #d62728; stroke: #d62728; stroke: #d62728"/>
     <path d="M 2 0 L -2 -0" transform="translate(661.279047 215.194225)" style="fill: #d62728; stroke: #d62728; stroke: #d62728"/>
     <path d="M 2 0 L -2 -0" transform="translate(721.485046 230.113441)" style="fill: #d62728; stroke: #d62728; stroke: #d62728"/>
     <path d="M 2 0 L -2 -0" transform="translate(781.691046 241.663802)" style="fill: #d62728; stroke: #d62728; stroke: #d62728"/>
     <path d="M 2 0 L -2 -0" transform="translate(841.897045 263.870746)" style="fill: #d62728; stroke: #d62728; stroke: #d62728"/>
    </g>
   </g>
   <g id="line2d_102">
    <path d="M 521.485046 168.786525 
L 581.691046 183.224476 
L 661.279047 203.162599 
L 721.485046 237.401169 
L 781.691046 242.076315 
L 841.897045 248.195256 
" clip-path="url(#p371b721e72)" style="fill: none; stroke-dasharray: 7.4,3.2; stroke-dashoffset: 0; stroke: #1f77b4; stroke-width: 2"/>
   </g>
   <g id="line2d_103">
    <path d="M 521.485046 174.699209 
L 581.691046 195.393606 
L 661.279047 206.600206 
L 721.485046 227.294603 
L 781.691046 237.882434 
L 841.897045 246.338948 
" clip-path="url(#p371b721e72)" style="fill: none; stroke: #ff7f0e; stroke-width: 2; stroke-linecap: square"/>
   </g>
   <g id="line2d_104">
    <path d="M 521.485046 166.380199 
L 581.691046 187.418357 
L 661.279047 202.681334 
L 721.485046 220.350636 
L 781.691046 238.226195 
L 841.897045 246.338948 
" clip-path="url(#p371b721e72)" style="fill: none; stroke-dasharray: 2,3.3; stroke-dashoffset: 0; stroke: #2ca02c; stroke-width: 2"/>
   </g>
   <g id="line2d_105">
    <path d="M 521.485046 162.530079 
L 581.691046 169.61155 
L 661.279047 167.755242 
L 721.485046 213.062908 
L 781.691046 219.113097 
L 841.897045 242.488828 
" clip-path="url(#p371b721e72)" style="fill: none; stroke: #d3d3d3; stroke-width: 2.2; stroke-linecap: square"/>
   </g>
   <g id="line2d_106">
    <path d="M 521.485046 143.34823 
L 581.691046 146.785837 
L 661.279047 165.348917 
L 721.485046 173.736679 
L 781.691046 184.049502 
L 841.897045 194.362324 
" clip-path="url(#p371b721e72)" style="fill: none; stroke: #000000; stroke-width: 0.8; stroke-linecap: square"/>
   </g>
   <g id="line2d_107">
    <path d="M 521.485046 109.040908 
L 581.691046 102.578206 
L 661.279047 97.146786 
L 721.485046 109.865933 
L 781.691046 118.322448 
L 841.897045 129.322791 
" clip-path="url(#p371b721e72)" style="fill: none; stroke-dasharray: 3.2,0.8,0.5,0.8; stroke-dashoffset: 0; stroke: #000000; stroke-width: 0.7"/>
   </g>
   <g id="line2d_108">
    <path d="M 521.485046 196.768649 
L 581.691046 217.325541 
L 661.279047 226.057064 
L 721.485046 243.038845 
L 781.691046 257.820557 
L 841.897045 269.164661 
" clip-path="url(#p371b721e72)" style="fill: none; stroke-dasharray: 12.8,3.2,2,3.2; stroke-dashoffset: 0; stroke: #d62728; stroke-width: 2"/>
   </g>
   <g id="patch_9">
    <path d="M 505.465796 292.059127 
L 505.465796 56.376762 
" style="fill: none; stroke: #000000; stroke-width: 1.271915; stroke-linejoin: miter; stroke-linecap: square"/>
   </g>
   <g id="patch_10">
    <path d="M 858.026813 292.059127 
L 858.026813 56.376762 
" style="fill: none; stroke: #000000; stroke-width: 1.271915; stroke-linejoin: miter; stroke-linecap: square"/>
   </g>
   <g id="patch_11">
    <path d="M 505.465796 292.059127 
L 858.026813 292.059127 
" style="fill: none; stroke: #000000; stroke-width: 1.271915; stroke-linejoin: miter; stroke-linecap: square"/>
   </g>
   <g id="patch_12">
    <path d="M 505.465796 56.376762 
L 858.026813 56.376762 
" style="fill: none; stroke: #000000; stroke-width: 1.271915; stroke-linejoin: miter; stroke-linecap: square"/>
   </g>
   <g id="legend_2">
    <g id="patch_13">
     <path d="M 508.265796 51.663114 
L 855.226813 51.663114 
Q 858.026813 51.663114 858.026813 48.863114 
L 858.026813 9.164364 
Q 858.026813 6.364364 855.226813 6.364364 
L 508.265796 6.364364 
Q 505.465796 6.364364 505.465796 9.164364 
L 505.465796 48.863114 
Q 505.465796 51.663114 508.265796 51.663114 
z
" style="fill: #ffffff; opacity: 0.8; stroke: #cccccc; stroke-width: 1.271915; stroke-linejoin: miter"/>
    </g>
    <g id="LineCollection_22">
     <path d="M 525.065796 24.702177 
L 525.065796 10.702177 
" style="fill: none; stroke: #1f77b4; stroke-width: 2"/>
    </g>
    <g id="line2d_109">
     <g>
      <path d="M 2 0 L -2 -0" transform="translate(525.065796 24.702177)" style="fill: #1f77b4; stroke: #1f77b4; stroke: #1f77b4"/>
     </g>
    </g>
    <g id="line2d_110">
     <g>
      <path d="M 2 0 L -2 -0" transform="translate(525.065796 10.702177)" style="fill: #1f77b4; stroke: #1f77b4; stroke: #1f77b4"/>
     </g>
    </g>
    <g id="line2d_111">
     <path d="M 511.065796 17.702177 
L 539.065796 17.702177 
" style="fill: none; stroke-dasharray: 7.4,3.2; stroke-dashoffset: 0; stroke: #1f77b4; stroke-width: 2"/>
    </g>
    <g id="line2d_112"/>
    <g id="text_38">
     <text style="font-size: 14px; font-family: 'DejaVu Sans', 'Liberation Sans', sans-serif; text-anchor: start" x="550.265796" y="22.602177" transform="rotate(-0 550.265796 22.602177)">RDE</text>
    </g>
    <g id="LineCollection_23">
     <path d="M 525.065796 45.251552 
L 525.065796 31.251552 
" style="fill: none; stroke: #ff7f0e; stroke-width: 2"/>
    </g>
    <g id="line2d_113">
     <g>
      <path d="M 2 0 L -2 -0" transform="translate(525.065796 45.251552)" style="fill: #ff7f0e; stroke: #ff7f0e; stroke: #ff7f0e"/>
     </g>
    </g>
    <g id="line2d_114">
     <g>
      <path d="M 2 0 L -2 -0" transform="translate(525.065796 31.251552)" style="fill: #ff7f0e; stroke: #ff7f0e; stroke: #ff7f0e"/>
     </g>
    </g>
    <g id="line2d_115">
     <path d="M 511.065796 38.251552 
L 539.065796 38.251552 
" style="fill: none; stroke: #ff7f0e; stroke-width: 2; stroke-linecap: square"/>
    </g>
    <g id="line2d_116"/>
    <g id="text_39">
     <text style="font-size: 14px; font-family: 'DejaVu Sans', 'Liberation Sans', sans-serif; text-anchor: start" x="550.265796" y="43.151552" transform="rotate(-0 550.265796 43.151552)">MVE</text>
    </g>
    <g id="LineCollection_24">
     <path d="M 603.582784 24.702177 
L 603.582784 10.702177 
" style="fill: none; stroke: #2ca02c; stroke-width: 2"/>
    </g>
    <g id="line2d_117">
     <g>
      <path d="M 2 0 L -2 -0" transform="translate(603.582784 24.702177)" style="fill: #2ca02c; stroke: #2ca02c; stroke: #2ca02c"/>
     </g>
    </g>
    <g id="line2d_118">
     <g>
      <path d="M 2 0 L -2 -0" transform="translate(603.582784 10.702177)" style="fill: #2ca02c; stroke: #2ca02c; stroke: #2ca02c"/>
     </g>
    </g>
    <g id="line2d_119">
     <path d="M 589.582784 17.702177 
L 617.582784 17.702177 
" style="fill: none; stroke-dasharray: 2,3.3; stroke-dashoffset: 0; stroke: #2ca02c; stroke-width: 2"/>
    </g>
    <g id="line2d_120"/>
    <g id="text_40">
     <text style="font-size: 14px; font-family: 'DejaVu Sans', 'Liberation Sans', sans-serif; text-anchor: start" x="628.782784" y="22.602177" transform="rotate(-0 628.782784 22.602177)">SDW</text>
    </g>
    <g id="LineCollection_25">
     <path d="M 603.582784 45.251552 
L 603.582784 31.251552 
" style="fill: none; stroke: #d3d3d3; stroke-width: 2"/>
    </g>
    <g id="line2d_121">
     <g>
      <path d="M 2 0 L -2 -0" transform="translate(603.582784 45.251552)" style="fill: #d3d3d3; stroke: #d3d3d3; stroke: #d3d3d3"/>
     </g>
    </g>
    <g id="line2d_122">
     <g>
      <path d="M 2 0 L -2 -0" transform="translate(603.582784 31.251552)" style="fill: #d3d3d3; stroke: #d3d3d3; stroke: #d3d3d3"/>
     </g>
    </g>
    <g id="line2d_123">
     <path d="M 589.582784 38.251552 
L 617.582784 38.251552 
" style="fill: none; stroke: #d3d3d3; stroke-width: 2.2; stroke-linecap: square"/>
    </g>
    <g id="line2d_124"/>
    <g id="text_41">
     <text style="font-size: 14px; font-family: 'DejaVu Sans', 'Liberation Sans', sans-serif; text-anchor: start" x="628.782784" y="43.151552" transform="rotate(-0 628.782784 43.151552)">SBE</text>
    </g>
    <g id="LineCollection_26">
     <path d="M 685.313842 24.702177 
L 685.313842 10.702177 
" style="fill: none; stroke: #000000; stroke-width: 0.8"/>
    </g>
    <g id="line2d_125">
     <g>
      <path d="M 2 0 L -2 -0" transform="translate(685.313842 24.702177)" style="stroke: #000000; stroke: #000000"/>
     </g>
    </g>
    <g id="line2d_126">
     <g>
      <path d="M 2 0 L -2 -0" transform="translate(685.313842 10.702177)" style="stroke: #000000; stroke: #000000"/>
     </g>
    </g>
    <g id="line2d_127">
     <path d="M 671.313842 17.702177 
L 699.313842 17.702177 
" style="fill: none; stroke: #000000; stroke-width: 0.8; stroke-linecap: square"/>
    </g>
    <g id="line2d_128"/>
    <g id="text_42">
     <text style="font-size: 14px; font-family: 'DejaVu Sans', 'Liberation Sans', sans-serif; text-anchor: start" x="710.513842" y="22.602177" transform="rotate(-0 710.513842 22.602177)">SVE</text>
    </g>
    <g id="LineCollection_27">
     <path d="M 685.313842 45.251552 
L 685.313842 31.251552 
" style="fill: none; stroke: #000000; stroke-width: 0.8"/>
    </g>
    <g id="line2d_129">
     <g>
      <path d="M 2 0 L -2 -0" transform="translate(685.313842 45.251552)" style="stroke: #000000; stroke: #000000"/>
     </g>
    </g>
    <g id="line2d_130">
     <g>
      <path d="M 2 0 L -2 -0" transform="translate(685.313842 31.251552)" style="stroke: #000000; stroke: #000000"/>
     </g>
    </g>
    <g id="line2d_131">
     <path d="M 671.313842 38.251552 
L 699.313842 38.251552 
" style="fill: none; stroke-dasharray: 3.2,0.8,0.5,0.8; stroke-dashoffset: 0; stroke: #000000; stroke-width: 0.7"/>
    </g>
    <g id="line2d_132"/>
    <g id="text_43">
     <text style="font-size: 14px; font-family: 'DejaVu Sans', 'Liberation Sans', sans-serif; text-anchor: start" x="710.513842" y="43.151552" transform="rotate(-0 710.513842 43.151552)">AVE</text>
    </g>
    <g id="LineCollection_28">
     <path d="M 761.395542 24.702177 
L 761.395542 10.702177 
" style="fill: none; stroke: #d62728; stroke-width: 2"/>
    </g>
    <g id="line2d_133">
     <g>
      <path d="M 2 0 L -2 -0" transform="translate(761.395542 24.702177)" style="fill: #d62728; stroke: #d62728; stroke: #d62728"/>
     </g>
    </g>
    <g id="line2d_134">
     <g>
      <path d="M 2 0 L -2 -0" transform="translate(761.395542 10.702177)" style="fill: #d62728; stroke: #d62728; stroke: #d62728"/>
     </g>
    </g>
    <g id="line2d_135">
     <path d="M 747.395542 17.702177 
L 775.395542 17.702177 
" style="fill: none; stroke-dasharray: 12.8,3.2,2,3.2; stroke-dashoffset: 0; stroke: #d62728; stroke-width: 2"/>
    </g>
    <g id="line2d_136"/>
    <g id="text_44">
     <text style="font-size: 14px; font-family: 'DejaVu Sans', 'Liberation Sans', sans-serif; text-anchor: start" x="786.595542" y="22.602177" transform="rotate(-0 786.595542 22.602177)">proposed</text>
    </g>
   </g>
  </g>
  <g id="axes_3">
   <g id="patch_14">
    <path d="M 952.62977 296.424888 
L 1304.915779 296.424888 
L 1304.915779 56.376762 
L 952.62977 56.376762 
z
" style="fill: #ffffff"/>
   </g>
   <g id="matplotlib.axis_5">
    <g id="xtick_25">
     <g id="line2d_137">
      <g>
       <path d="M 0 0 L 0 3.6" transform="translate(968.717772 296.424888)" style="stroke: #000000; stroke-width: 0.9; stroke: #000000; stroke-width: 0.9"/>
      </g>
     </g>
     <g id="text_45">
      <text style="font-size: 14px; font-family: 'DejaVu Sans', 'Liberation Sans', sans-serif; text-anchor: middle" x="968.717772" y="314.506462" transform="rotate(-0 968.717772 314.506462)">0.0</text>
     </g>
    </g>
    <g id="xtick_26">
     <g id="line2d_138">
      <g>
       <path d="M 0 0 L 0 3.6" transform="translate(1075.537986 296.424888)" style="stroke: #000000; stroke-width: 0.9; stroke: #000000; stroke-width: 0.9"/>
      </g>
     </g>
     <g id="text_46">
      <text style="font-size: 14px; font-family: 'DejaVu Sans', 'Liberation Sans', sans-serif; text-anchor: middle" x="1075.537986" y="314.506462" transform="rotate(-0 1075.537986 314.506462)">0.1</text>
     </g>
    </g>
    <g id="xtick_27">
     <g id="line2d_139">
      <g>
       <path d="M 0 0 L 0 3.6" transform="translate(1182.358199 296.424888)" style="stroke: #000000; stroke-width: 0.9; stroke: #000000; stroke-width: 0.9"/>
      </g>
     </g>
     <g id="text_47">
      <text style="font-size: 14px; font-family: 'DejaVu Sans', 'Liberation Sans', sans-serif; text-anchor: middle" x="1182.358199" y="314.506462" transform="rotate(-0 1182.358199 314.506462)">0.2</text>
     </g>
    </g>
    <g id="xtick_28">
     <g id="line2d_140">
      <g>
       <path d="M 0 0 L 0 3.6" transform="translate(1289.178412 296.424888)" style="stroke: #000000; stroke-width: 0.9; stroke: #000000; stroke-width: 0.9"/>
      </g>
     </g>
     <g id="text_48">
      <text style="font-size: 14px; font-family: 'DejaVu Sans', 'Liberation Sans', sans-serif; text-anchor: middle" x="1289.178412" y="314.506462" transform="rotate(-0 1289.178412 314.506462)">0.3</text>
     </g>
    </g>
    <g id="text_49">
     <text style="font-size: 14px; font-family: 'DejaVu Sans', 'Liberation Sans', sans-serif; text-anchor: middle" x="1128.772774" y="332.193341" transform="rotate(-0 1128.772774 332.193341)">Scale of observational noise</text>
    </g>
   </g>
   <g id="matplotlib.axis_6">
    <g id="ytick_15">
     <g id="line2d_141">
      <g>
       <path d="M 0 0 L -3.6 0" transform="translate(952.62977 281.574424)" style="stroke: #000000; stroke-width: 0.9; stroke: #000000; stroke-width: 0.9"/>
      </g>
     </g>
     <g id="text_50">
      <text style="font-size: 14px; font-family: 'DejaVu Sans', 'Liberation Sans', sans-serif; text-anchor: end" x="945.52977" y="287.237091" transform="rotate(-0 945.52977 287.237091)">1.0</text>
     </g>
    </g>
    <g id="ytick_16">
     <g id="line2d_142">
      <g>
       <path d="M 0 0 L -3.6 0" transform="translate(952.62977 238.652458)" style="stroke: #000000; stroke-width: 0.9; stroke: #000000; stroke-width: 0.9"/>
      </g>
     </g>
     <g id="text_51">
      <text style="font-size: 14px; font-family: 'DejaVu Sans', 'Liberation Sans', sans-serif; text-anchor: end" x="945.52977" y="244.315125" transform="rotate(-0 945.52977 244.315125)">1.2</text>
     </g>
    </g>
    <g id="ytick_17">
     <g id="line2d_143">
      <g>
       <path d="M 0 0 L -3.6 0" transform="translate(952.62977 195.730492)" style="stroke: #000000; stroke-width: 0.9; stroke: #000000; stroke-width: 0.9"/>
      </g>
     </g>
     <g id="text_52">
      <text style="font-size: 14px; font-family: 'DejaVu Sans', 'Liberation Sans', sans-serif; text-anchor: end" x="945.52977" y="201.393159" transform="rotate(-0 945.52977 201.393159)">1.4</text>
     </g>
    </g>
    <g id="ytick_18">
     <g id="line2d_144">
      <g>
       <path d="M 0 0 L -3.6 0" transform="translate(952.62977 152.808525)" style="stroke: #000000; stroke-width: 0.9; stroke: #000000; stroke-width: 0.9"/>
      </g>
     </g>
     <g id="text_53">
      <text style="font-size: 14px; font-family: 'DejaVu Sans', 'Liberation Sans', sans-serif; text-anchor: end" x="945.52977" y="158.471192" transform="rotate(-0 945.52977 158.471192)">1.6</text>
     </g>
    </g>
    <g id="ytick_19">
     <g id="line2d_145">
      <g>
       <path d="M 0 0 L -3.6 0" transform="translate(952.62977 109.886559)" style="stroke: #000000; stroke-width: 0.9; stroke: #000000; stroke-width: 0.9"/>
      </g>
     </g>
     <g id="text_54">
      <text style="font-size: 14px; font-family: 'DejaVu Sans', 'Liberation Sans', sans-serif; text-anchor: end" x="945.52977" y="115.549226" transform="rotate(-0 945.52977 115.549226)">1.8</text>
     </g>
    </g>
    <g id="ytick_20">
     <g id="line2d_146">
      <g>
       <path d="M 0 0 L -3.6 0" transform="translate(952.62977 66.964593)" style="stroke: #000000; stroke-width: 0.9; stroke: #000000; stroke-width: 0.9"/>
      </g>
     </g>
     <g id="text_55">
      <text style="font-size: 14px; font-family: 'DejaVu Sans', 'Liberation Sans', sans-serif; text-anchor: end" x="945.52977" y="72.62726" transform="rotate(-0 945.52977 72.62726)">2.0</text>
     </g>
    </g>
    <g id="text_56">
     <text style="font-size: 14px; font-family: 'DejaVu Sans', 'Liberation Sans', sans-serif; text-anchor: middle" x="916.353832" y="176.400825" transform="rotate(-90 916.353832 176.400825)">RMSE</text>
    </g>
   </g>
   <g id="LineCollection_29">
    <path d="M 968.717772 254.520454 
L 968.717772 218.425576 
" clip-path="url(#p03eee90194)" style="fill: none; stroke: #1f77b4; stroke-width: 2"/>
    <path d="M 1075.537986 250.670333 
L 1075.537986 218.975593 
" clip-path="url(#p03eee90194)" style="fill: none; stroke: #1f77b4; stroke-width: 2"/>
    <path d="M 1182.358199 226.88209 
L 1182.358199 207.287728 
" clip-path="url(#p03eee90194)" style="fill: none; stroke: #1f77b4; stroke-width: 2"/>
    <path d="M 1289.178412 212.719147 
L 1289.178412 193.262289 
" clip-path="url(#p03eee90194)" style="fill: none; stroke: #1f77b4; stroke-width: 2"/>
   </g>
   <g id="LineCollection_30">
    <path d="M 968.717772 261.326916 
L 968.717772 235.544861 
" clip-path="url(#p03eee90194)" style="fill: none; stroke: #ff7f0e; stroke-width: 2"/>
    <path d="M 1075.537986 256.583018 
L 1075.537986 224.544517 
" clip-path="url(#p03eee90194)" style="fill: none; stroke: #ff7f0e; stroke-width: 2"/>
    <path d="M 1182.358199 246.270196 
L 1182.358199 216.156755 
" clip-path="url(#p03eee90194)" style="fill: none; stroke: #ff7f0e; stroke-width: 2"/>
    <path d="M 1289.178412 235.751117 
L 1289.178412 207.975249 
" clip-path="url(#p03eee90194)" style="fill: none; stroke: #ff7f0e; stroke-width: 2"/>
   </g>
   <g id="LineCollection_31">
    <path d="M 968.717772 248.607769 
L 968.717772 225.369543 
" clip-path="url(#p03eee90194)" style="fill: none; stroke: #2ca02c; stroke-width: 2"/>
    <path d="M 1075.537986 250.670333 
L 1075.537986 213.887934 
" clip-path="url(#p03eee90194)" style="fill: none; stroke: #2ca02c; stroke-width: 2"/>
    <path d="M 1182.358199 239.876246 
L 1182.358199 203.918872 
" clip-path="url(#p03eee90194)" style="fill: none; stroke: #2ca02c; stroke-width: 2"/>
    <path d="M 1289.178412 224.269508 
L 1289.178412 196.14988 
" clip-path="url(#p03eee90194)" style="fill: none; stroke: #2ca02c; stroke-width: 2"/>
   </g>
   <g id="LineCollection_32">
    <path d="M 968.717772 222.344448 
L 968.717772 172.567893 
" clip-path="url(#p03eee90194)" style="fill: none; stroke: #d3d3d3; stroke-width: 2"/>
    <path d="M 1075.537986 203.093847 
L 1075.537986 147.679615 
" clip-path="url(#p03eee90194)" style="fill: none; stroke: #d3d3d3; stroke-width: 2"/>
    <path d="M 1182.358199 202.681334 
L 1182.358199 149.604675 
" clip-path="url(#p03eee90194)" style="fill: none; stroke: #d3d3d3; stroke-width: 2"/>
    <path d="M 1289.178412 190.237195 
L 1289.178412 142.798212 
" clip-path="url(#p03eee90194)" style="fill: none; stroke: #d3d3d3; stroke-width: 2"/>
   </g>
   <g id="LineCollection_33">
    <path d="M 968.717772 210.725335 
L 968.717772 178.686834 
" clip-path="url(#p03eee90194)" style="fill: none; stroke: #000000; stroke-width: 0.8"/>
    <path d="M 1075.537986 186.662083 
L 1075.537986 157.511172 
" clip-path="url(#p03eee90194)" style="fill: none; stroke: #000000; stroke-width: 0.8"/>
    <path d="M 1182.358199 168.236507 
L 1182.358199 143.829495 
" clip-path="url(#p03eee90194)" style="fill: none; stroke: #000000; stroke-width: 0.8"/>
    <path d="M 1289.178412 147.19835 
L 1289.178412 118.872465 
" clip-path="url(#p03eee90194)" style="fill: none; stroke: #000000; stroke-width: 0.8"/>
   </g>
   <g id="LineCollection_34">
    <path d="M 968.717772 149.329667 
L 968.717772 76.864902 
" clip-path="url(#p03eee90194)" style="fill: none; stroke: #000000; stroke-width: 0.8"/>
    <path d="M 1075.537986 143.760743 
L 1075.537986 92.059127 
" clip-path="url(#p03eee90194)" style="fill: none; stroke: #000000; stroke-width: 0.8"/>
    <path d="M 1182.358199 138.535579 
L 1182.358199 89.515297 
" clip-path="url(#p03eee90194)" style="fill: none; stroke: #000000; stroke-width: 0.8"/>
    <path d="M 1289.178412 137.091784 
L 1289.178412 67.377106 
" clip-path="url(#p03eee90194)" style="fill: none; stroke: #000000; stroke-width: 0.8"/>
   </g>
   <g id="LineCollection_35">
    <path d="M 968.717772 285.390168 
L 968.717772 250.670333 
" clip-path="url(#p03eee90194)" style="fill: none; stroke: #d62728; stroke-width: 2"/>
    <path d="M 1075.537986 264.214507 
L 1075.537986 240.151255 
" clip-path="url(#p03eee90194)" style="fill: none; stroke: #d62728; stroke-width: 2"/>
    <path d="M 1182.358199 246.270196 
L 1182.358199 231.007219 
" clip-path="url(#p03eee90194)" style="fill: none; stroke: #d62728; stroke-width: 2"/>
    <path d="M 1289.178412 231.69474 
L 1289.178412 212.719147 
" clip-path="url(#p03eee90194)" style="fill: none; stroke: #d62728; stroke-width: 2"/>
   </g>
   <g id="line2d_147">
    <g clip-path="url(#p03eee90194)">
     <path d="M 2 0 L -2 -0" transform="translate(968.717772 254.520454)" style="fill: #1f77b4; stroke: #1f77b4; stroke: #1f77b4"/>
     <path d="M 2 0 L -2 -0" transform="translate(1075.537986 250.670333)" style="fill: #1f77b4; stroke: #1f77b4; stroke: #1f77b4"/>
     <path d="M 2 0 L -2 -0" transform="translate(1182.358199 226.88209)" style="fill: #1f77b4; stroke: #1f77b4; stroke: #1f77b4"/>
     <path d="M 2 0 L -2 -0" transform="translate(1289.178412 212.719147)" style="fill: #1f77b4; stroke: #1f77b4; stroke: #1f77b4"/>
    </g>
   </g>
   <g id="line2d_148">
    <g clip-path="url(#p03eee90194)">
     <path d="M 2 0 L -2 -0" transform="translate(968.717772 218.425576)" style="fill: #1f77b4; stroke: #1f77b4; stroke: #1f77b4"/>
     <path d="M 2 0 L -2 -0" transform="translate(1075.537986 218.975593)" style="fill: #1f77b4; stroke: #1f77b4; stroke: #1f77b4"/>
     <path d="M 2 0 L -2 -0" transform="translate(1182.358199 207.287728)" style="fill: #1f77b4; stroke: #1f77b4; stroke: #1f77b4"/>
     <path d="M 2 0 L -2 -0" transform="translate(1289.178412 193.262289)" style="fill: #1f77b4; stroke: #1f77b4; stroke: #1f77b4"/>
    </g>
   </g>
   <g id="line2d_149">
    <g clip-path="url(#p03eee90194)">
     <path d="M 2 0 L -2 -0" transform="translate(968.717772 261.326916)" style="fill: #ff7f0e; stroke: #ff7f0e; stroke: #ff7f0e"/>
     <path d="M 2 0 L -2 -0" transform="translate(1075.537986 256.583018)" style="fill: #ff7f0e; stroke: #ff7f0e; stroke: #ff7f0e"/>
     <path d="M 2 0 L -2 -0" transform="translate(1182.358199 246.270196)" style="fill: #ff7f0e; stroke: #ff7f0e; stroke: #ff7f0e"/>
     <path d="M 2 0 L -2 -0" transform="translate(1289.178412 235.751117)" style="fill: #ff7f0e; stroke: #ff7f0e; stroke: #ff7f0e"/>
    </g>
   </g>
   <g id="line2d_150">
    <g clip-path="url(#p03eee90194)">
     <path d="M 2 0 L -2 -0" transform="translate(968.717772 235.544861)" style="fill: #ff7f0e; stroke: #ff7f0e; stroke: #ff7f0e"/>
     <path d="M 2 0 L -2 -0" transform="translate(1075.537986 224.544517)" style="fill: #ff7f0e; stroke: #ff7f0e; stroke: #ff7f0e"/>
     <path d="M 2 0 L -2 -0" transform="translate(1182.358199 216.156755)" style="fill: #ff7f0e; stroke: #ff7f0e; stroke: #ff7f0e"/>
     <path d="M 2 0 L -2 -0" transform="translate(1289.178412 207.975249)" style="fill: #ff7f0e; stroke: #ff7f0e; stroke: #ff7f0e"/>
    </g>
   </g>
   <g id="line2d_151">
    <g clip-path="url(#p03eee90194)">
     <path d="M 2 0 L -2 -0" transform="translate(968.717772 248.607769)" style="fill: #2ca02c; stroke: #2ca02c; stroke: #2ca02c"/>
     <path d="M 2 0 L -2 -0" transform="translate(1075.537986 250.670333)" style="fill: #2ca02c; stroke: #2ca02c; stroke: #2ca02c"/>
     <path d="M 2 0 L -2 -0" transform="translate(1182.358199 239.876246)" style="fill: #2ca02c; stroke: #2ca02c; stroke: #2ca02c"/>
     <path d="M 2 0 L -2 -0" transform="translate(1289.178412 224.269508)" style="fill: #2ca02c; stroke: #2ca02c; stroke: #2ca02c"/>
    </g>
   </g>
   <g id="line2d_152">
    <g clip-path="url(#p03eee90194)">
     <path d="M 2 0 L -2 -0" transform="translate(968.717772 225.369543)" style="fill: #2ca02c; stroke: #2ca02c; stroke: #2ca02c"/>
     <path d="M 2 0 L -2 -0" transform="translate(1075.537986 213.887934)" style="fill: #2ca02c; stroke: #2ca02c; stroke: #2ca02c"/>
     <path d="M 2 0 L -2 -0" transform="translate(1182.358199 203.918872)" style="fill: #2ca02c; stroke: #2ca02c; stroke: #2ca02c"/>
     <path d="M 2 0 L -2 -0" transform="translate(1289.178412 196.14988)" style="fill: #2ca02c; stroke: #2ca02c; stroke: #2ca02c"/>
    </g>
   </g>
   <g id="line2d_153">
    <g clip-path="url(#p03eee90194)">
     <path d="M 2 0 L -2 -0" transform="translate(968.717772 222.344448)" style="fill: #d3d3d3; stroke: #d3d3d3; stroke: #d3d3d3"/>
     <path d="M 2 0 L -2 -0" transform="translate(1075.537986 203.093847)" style="fill: #d3d3d3; stroke: #d3d3d3; stroke: #d3d3d3"/>
     <path d="M 2 0 L -2 -0" transform="translate(1182.358199 202.681334)" style="fill: #d3d3d3; stroke: #d3d3d3; stroke: #d3d3d3"/>
     <path d="M 2 0 L -2 -0" transform="translate(1289.178412 190.237195)" style="fill: #d3d3d3; stroke: #d3d3d3; stroke: #d3d3d3"/>
    </g>
   </g>
   <g id="line2d_154">
    <g clip-path="url(#p03eee90194)">
     <path d="M 2 0 L -2 -0" transform="translate(968.717772 172.567893)" style="fill: #d3d3d3; stroke: #d3d3d3; stroke: #d3d3d3"/>
     <path d="M 2 0 L -2 -0" transform="translate(1075.537986 147.679615)" style="fill: #d3d3d3; stroke: #d3d3d3; stroke: #d3d3d3"/>
     <path d="M 2 0 L -2 -0" transform="translate(1182.358199 149.604675)" style="fill: #d3d3d3; stroke: #d3d3d3; stroke: #d3d3d3"/>
     <path d="M 2 0 L -2 -0" transform="translate(1289.178412 142.798212)" style="fill: #d3d3d3; stroke: #d3d3d3; stroke: #d3d3d3"/>
    </g>
   </g>
   <g id="line2d_155">
    <g clip-path="url(#p03eee90194)">
     <path d="M 2 0 L -2 -0" transform="translate(968.717772 210.725335)" style="stroke: #000000; stroke: #000000"/>
     <path d="M 2 0 L -2 -0" transform="translate(1075.537986 186.662083)" style="stroke: #000000; stroke: #000000"/>
     <path d="M 2 0 L -2 -0" transform="translate(1182.358199 168.236507)" style="stroke: #000000; stroke: #000000"/>
     <path d="M 2 0 L -2 -0" transform="translate(1289.178412 147.19835)" style="stroke: #000000; stroke: #000000"/>
    </g>
   </g>
   <g id="line2d_156">
    <g clip-path="url(#p03eee90194)">
     <path d="M 2 0 L -2 -0" transform="translate(968.717772 178.686834)" style="stroke: #000000; stroke: #000000"/>
     <path d="M 2 0 L -2 -0" transform="translate(1075.537986 157.511172)" style="stroke: #000000; stroke: #000000"/>
     <path d="M 2 0 L -2 -0" transform="translate(1182.358199 143.829495)" style="stroke: #000000; stroke: #000000"/>
     <path d="M 2 0 L -2 -0" transform="translate(1289.178412 118.872465)" style="stroke: #000000; stroke: #000000"/>
    </g>
   </g>
   <g id="line2d_157">
    <g clip-path="url(#p03eee90194)">
     <path d="M 2 0 L -2 -0" transform="translate(968.717772 149.329667)" style="stroke: #000000; stroke: #000000"/>
     <path d="M 2 0 L -2 -0" transform="translate(1075.537986 143.760743)" style="stroke: #000000; stroke: #000000"/>
     <path d="M 2 0 L -2 -0" transform="translate(1182.358199 138.535579)" style="stroke: #000000; stroke: #000000"/>
     <path d="M 2 0 L -2 -0" transform="translate(1289.178412 137.091784)" style="stroke: #000000; stroke: #000000"/>
    </g>
   </g>
   <g id="line2d_158">
    <g clip-path="url(#p03eee90194)">
     <path d="M 2 0 L -2 -0" transform="translate(968.717772 76.864902)" style="stroke: #000000; stroke: #000000"/>
     <path d="M 2 0 L -2 -0" transform="translate(1075.537986 92.059127)" style="stroke: #000000; stroke: #000000"/>
     <path d="M 2 0 L -2 -0" transform="translate(1182.358199 89.515297)" style="stroke: #000000; stroke: #000000"/>
     <path d="M 2 0 L -2 -0" transform="translate(1289.178412 67.377106)" style="stroke: #000000; stroke: #000000"/>
    </g>
   </g>
   <g id="line2d_159">
    <g clip-path="url(#p03eee90194)">
     <path d="M 2 0 L -2 -0" transform="translate(968.717772 285.390168)" style="fill: #d62728; stroke: #d62728; stroke: #d62728"/>
     <path d="M 2 0 L -2 -0" transform="translate(1075.537986 264.214507)" style="fill: #d62728; stroke: #d62728; stroke: #d62728"/>
     <path d="M 2 0 L -2 -0" transform="translate(1182.358199 246.270196)" style="fill: #d62728; stroke: #d62728; stroke: #d62728"/>
     <path d="M 2 0 L -2 -0" transform="translate(1289.178412 231.69474)" style="fill: #d62728; stroke: #d62728; stroke: #d62728"/>
    </g>
   </g>
   <g id="line2d_160">
    <g clip-path="url(#p03eee90194)">
     <path d="M 2 0 L -2 -0" transform="translate(968.717772 250.670333)" style="fill: #d62728; stroke: #d62728; stroke: #d62728"/>
     <path d="M 2 0 L -2 -0" transform="translate(1075.537986 240.151255)" style="fill: #d62728; stroke: #d62728; stroke: #d62728"/>
     <path d="M 2 0 L -2 -0" transform="translate(1182.358199 231.007219)" style="fill: #d62728; stroke: #d62728; stroke: #d62728"/>
     <path d="M 2 0 L -2 -0" transform="translate(1289.178412 212.719147)" style="fill: #d62728; stroke: #d62728; stroke: #d62728"/>
    </g>
   </g>
   <g id="line2d_161">
    <path d="M 968.717772 236.438639 
L 1075.537986 231.69474 
L 1182.358199 217.463046 
L 1289.178412 206.806463 
" clip-path="url(#p03eee90194)" style="fill: none; stroke-dasharray: 7.4,3.2; stroke-dashoffset: 0; stroke: #1f77b4; stroke-width: 2"/>
   </g>
   <g id="line2d_162">
    <path d="M 968.717772 240.63252 
L 1075.537986 240.151255 
L 1182.358199 232.726023 
L 1289.178412 220.350636 
" clip-path="url(#p03eee90194)" style="fill: none; stroke: #ff7f0e; stroke-width: 2; stroke-linecap: square"/>
   </g>
   <g id="line2d_163">
    <path d="M 968.717772 237.263664 
L 1075.537986 232.519766 
L 1182.358199 225.782056 
L 1289.178412 210.725335 
" clip-path="url(#p03eee90194)" style="fill: none; stroke-dasharray: 2,3.3; stroke-dashoffset: 0; stroke: #2ca02c; stroke-width: 2"/>
   </g>
   <g id="line2d_164">
    <path d="M 968.717772 192.574768 
L 1075.537986 181.574424 
L 1182.358199 182.674459 
L 1289.178412 165.348917 
" clip-path="url(#p03eee90194)" style="fill: none; stroke: #d3d3d3; stroke-width: 2.2; stroke-linecap: square"/>
   </g>
   <g id="line2d_165">
    <path d="M 968.717772 189.205913 
L 1075.537986 172.774149 
L 1182.358199 155.723616 
L 1289.178412 137.091784 
" clip-path="url(#p03eee90194)" style="fill: none; stroke: #000000; stroke-width: 0.8; stroke-linecap: square"/>
   </g>
   <g id="line2d_166">
    <path d="M 968.717772 105.947061 
L 1075.537986 133.10416 
L 1182.358199 117.359917 
L 1289.178412 101.409419 
" clip-path="url(#p03eee90194)" style="fill: none; stroke-dasharray: 3.2,0.8,0.5,0.8; stroke-dashoffset: 0; stroke: #000000; stroke-width: 0.7"/>
   </g>
   <g id="line2d_167">
    <path d="M 968.717772 264.695772 
L 1075.537986 251.976624 
L 1182.358199 238.982468 
L 1289.178412 220.350636 
" clip-path="url(#p03eee90194)" style="fill: none; stroke-dasharray: 12.8,3.2,2,3.2; stroke-dashoffset: 0; stroke: #d62728; stroke-width: 2"/>
   </g>
   <g id="patch_15">
    <path d="M 952.62977 296.424888 
L 952.62977 56.376762 
" style="fill: none; stroke: #000000; stroke-width: 1.271915; stroke-linejoin: miter; stroke-linecap: square"/>
   </g>
   <g id="patch_16">
    <path d="M 1304.915779 296.424888 
L 1304.915779 56.376762 
" style="fill: none; stroke: #000000; stroke-width: 1.271915; stroke-linejoin: miter; stroke-linecap: square"/>
   </g>
   <g id="patch_17">
    <path d="M 952.62977 296.424888 
L 1304.915779 296.424888 
" style="fill: none; stroke: #000000; stroke-width: 1.271915; stroke-linejoin: miter; stroke-linecap: square"/>
   </g>
   <g id="patch_18">
    <path d="M 952.62977 56.376762 
L 1304.915779 56.376762 
" style="fill: none; stroke: #000000; stroke-width: 1.271915; stroke-linejoin: miter; stroke-linecap: square"/>
   </g>
   <g id="legend_3">
    <g id="patch_19">
     <path d="M 955.42977 51.575799 
L 1302.115779 51.575799 
Q 1304.915779 51.575799 1304.915779 48.775799 
L 1304.915779 9.077049 
Q 1304.915779 6.277049 1302.115779 6.277049 
L 955.42977 6.277049 
Q 952.62977 6.277049 952.62977 9.077049 
L 952.62977 48.775799 
Q 952.62977 51.575799 955.42977 51.575799 
z
" style="fill: #ffffff; opacity: 0.8; stroke: #cccccc; stroke-width: 1.271915; stroke-linejoin: miter"/>
    </g>
    <g id="LineCollection_36">
     <path d="M 972.22977 24.614862 
L 972.22977 10.614862 
" style="fill: none; stroke: #1f77b4; stroke-width: 2"/>
    </g>
    <g id="line2d_168">
     <g>
      <path d="M 2 0 L -2 -0" transform="translate(972.22977 24.614862)" style="fill: #1f77b4; stroke: #1f77b4; stroke: #1f77b4"/>
     </g>
    </g>
    <g id="line2d_169">
     <g>
      <path d="M 2 0 L -2 -0" transform="translate(972.22977 10.614862)" style="fill: #1f77b4; stroke: #1f77b4; stroke: #1f77b4"/>
     </g>
    </g>
    <g id="line2d_170">
     <path d="M 958.22977 17.614862 
L 986.22977 17.614862 
" style="fill: none; stroke-dasharray: 7.4,3.2; stroke-dashoffset: 0; stroke: #1f77b4; stroke-width: 2"/>
    </g>
    <g id="line2d_171"/>
    <g id="text_57">
     <text style="font-size: 14px; font-family: 'DejaVu Sans', 'Liberation Sans', sans-serif; text-anchor: start" x="997.42977" y="22.514862" transform="rotate(-0 997.42977 22.514862)">RDE</text>
    </g>
    <g id="LineCollection_37">
     <path d="M 972.22977 45.164237 
L 972.22977 31.164237 
" style="fill: none; stroke: #ff7f0e; stroke-width: 2"/>
    </g>
    <g id="line2d_172">
     <g>
      <path d="M 2 0 L -2 -0" transform="translate(972.22977 45.164237)" style="fill: #ff7f0e; stroke: #ff7f0e; stroke: #ff7f0e"/>
     </g>
    </g>
    <g id="line2d_173">
     <g>
      <path d="M 2 0 L -2 -0" transform="translate(972.22977 31.164237)" style="fill: #ff7f0e; stroke: #ff7f0e; stroke: #ff7f0e"/>
     </g>
    </g>
    <g id="line2d_174">
     <path d="M 958.22977 38.164237 
L 986.22977 38.164237 
" style="fill: none; stroke: #ff7f0e; stroke-width: 2; stroke-linecap: square"/>
    </g>
    <g id="line2d_175"/>
    <g id="text_58">
     <text style="font-size: 14px; font-family: 'DejaVu Sans', 'Liberation Sans', sans-serif; text-anchor: start" x="997.42977" y="43.064237" transform="rotate(-0 997.42977 43.064237)">MVE</text>
    </g>
    <g id="LineCollection_38">
     <path d="M 1050.655089 24.614862 
L 1050.655089 10.614862 
" style="fill: none; stroke: #2ca02c; stroke-width: 2"/>
    </g>
    <g id="line2d_176">
     <g>
      <path d="M 2 0 L -2 -0" transform="translate(1050.655089 24.614862)" style="fill: #2ca02c; stroke: #2ca02c; stroke: #2ca02c"/>
     </g>
    </g>
    <g id="line2d_177">
     <g>
      <path d="M 2 0 L -2 -0" transform="translate(1050.655089 10.614862)" style="fill: #2ca02c; stroke: #2ca02c; stroke: #2ca02c"/>
     </g>
    </g>
    <g id="line2d_178">
     <path d="M 1036.655089 17.614862 
L 1064.655089 17.614862 
" style="fill: none; stroke-dasharray: 2,3.3; stroke-dashoffset: 0; stroke: #2ca02c; stroke-width: 2"/>
    </g>
    <g id="line2d_179"/>
    <g id="text_59">
     <text style="font-size: 14px; font-family: 'DejaVu Sans', 'Liberation Sans', sans-serif; text-anchor: start" x="1075.855089" y="22.514862" transform="rotate(-0 1075.855089 22.514862)">SDW</text>
    </g>
    <g id="LineCollection_39">
     <path d="M 1050.655089 45.164237 
L 1050.655089 31.164237 
" style="fill: none; stroke: #d3d3d3; stroke-width: 2"/>
    </g>
    <g id="line2d_180">
     <g>
      <path d="M 2 0 L -2 -0" transform="translate(1050.655089 45.164237)" style="fill: #d3d3d3; stroke: #d3d3d3; stroke: #d3d3d3"/>
     </g>
    </g>
    <g id="line2d_181">
     <g>
      <path d="M 2 0 L -2 -0" transform="translate(1050.655089 31.164237)" style="fill: #d3d3d3; stroke: #d3d3d3; stroke: #d3d3d3"/>
     </g>
    </g>
    <g id="line2d_182">
     <path d="M 1036.655089 38.164237 
L 1064.655089 38.164237 
" style="fill: none; stroke: #d3d3d3; stroke-width: 2.2; stroke-linecap: square"/>
    </g>
    <g id="line2d_183"/>
    <g id="text_60">
     <text style="font-size: 14px; font-family: 'DejaVu Sans', 'Liberation Sans', sans-serif; text-anchor: start" x="1075.855089" y="43.064237" transform="rotate(-0 1075.855089 43.064237)">SBE</text>
    </g>
    <g id="LineCollection_40">
     <path d="M 1132.294477 24.614862 
L 1132.294477 10.614862 
" style="fill: none; stroke: #000000; stroke-width: 0.8"/>
    </g>
    <g id="line2d_184">
     <g>
      <path d="M 2 0 L -2 -0" transform="translate(1132.294477 24.614862)" style="stroke: #000000; stroke: #000000"/>
     </g>
    </g>
    <g id="line2d_185">
     <g>
      <path d="M 2 0 L -2 -0" transform="translate(1132.294477 10.614862)" style="stroke: #000000; stroke: #000000"/>
     </g>
    </g>
    <g id="line2d_186">
     <path d="M 1118.294477 17.614862 
L 1146.294477 17.614862 
" style="fill: none; stroke: #000000; stroke-width: 0.8; stroke-linecap: square"/>
    </g>
    <g id="line2d_187"/>
    <g id="text_61">
     <text style="font-size: 14px; font-family: 'DejaVu Sans', 'Liberation Sans', sans-serif; text-anchor: start" x="1157.494477" y="22.514862" transform="rotate(-0 1157.494477 22.514862)">SVE</text>
    </g>
    <g id="LineCollection_41">
     <path d="M 1132.294477 45.164237 
L 1132.294477 31.164237 
" style="fill: none; stroke: #000000; stroke-width: 0.8"/>
    </g>
    <g id="line2d_188">
     <g>
      <path d="M 2 0 L -2 -0" transform="translate(1132.294477 45.164237)" style="stroke: #000000; stroke: #000000"/>
     </g>
    </g>
    <g id="line2d_189">
     <g>
      <path d="M 2 0 L -2 -0" transform="translate(1132.294477 31.164237)" style="stroke: #000000; stroke: #000000"/>
     </g>
    </g>
    <g id="line2d_190">
     <path d="M 1118.294477 38.164237 
L 1146.294477 38.164237 
" style="fill: none; stroke-dasharray: 3.2,0.8,0.5,0.8; stroke-dashoffset: 0; stroke: #000000; stroke-width: 0.7"/>
    </g>
    <g id="line2d_191"/>
    <g id="text_62">
     <text style="font-size: 14px; font-family: 'DejaVu Sans', 'Liberation Sans', sans-serif; text-anchor: start" x="1157.494477" y="43.064237" transform="rotate(-0 1157.494477 43.064237)">AVE</text>
    </g>
    <g id="LineCollection_42">
     <path d="M 1208.284507 24.614862 
L 1208.284507 10.614862 
" style="fill: none; stroke: #d62728; stroke-width: 2"/>
    </g>
    <g id="line2d_192">
     <g>
      <path d="M 2 0 L -2 -0" transform="translate(1208.284507 24.614862)" style="fill: #d62728; stroke: #d62728; stroke: #d62728"/>
     </g>
    </g>
    <g id="line2d_193">
     <g>
      <path d="M 2 0 L -2 -0" transform="translate(1208.284507 10.614862)" style="fill: #d62728; stroke: #d62728; stroke: #d62728"/>
     </g>
    </g>
    <g id="line2d_194">
     <path d="M 1194.284507 17.614862 
L 1222.284507 17.614862 
" style="fill: none; stroke-dasharray: 12.8,3.2,2,3.2; stroke-dashoffset: 0; stroke: #d62728; stroke-width: 2"/>
    </g>
    <g id="line2d_195"/>
    <g id="text_63">
     <text style="font-size: 14px; font-family: 'DejaVu Sans', 'Liberation Sans', sans-serif; text-anchor: start" x="1233.484507" y="22.514862" transform="rotate(-0 1233.484507 22.514862)">proposed</text>
    </g>
   </g>
  </g>
 </g>
 <defs>
  <clipPath id="p12a001afb0">
   <rect x="64.558267" y="56.376762" width="343.141973" height="240.048127"/>
  </clipPath>
  <clipPath id="p371b721e72">
   <rect x="505.465796" y="56.376762" width="352.561018" height="235.682365"/>
  </clipPath>
  <clipPath id="p03eee90194">
   <rect x="952.62977" y="56.376762" width="352.286009" height="240.048127"/>
  </clipPath>
 </defs>
<g style="stroke:none;font-family:'Liberation Sans',Arial,sans-serif" fill="#000" font-size="25.4383"><text x="-1.3063 6.8065 22.5507" y="19.2506" style="stroke:none">(a)</text><text x="446.8202 455.6205 471.1585" y="19.2506" style="stroke:none">(b)</text><text x="897.0093 905.5345 919.9037" y="19.2506" style="stroke:none">(c)</text></g></svg>

</body></html>
